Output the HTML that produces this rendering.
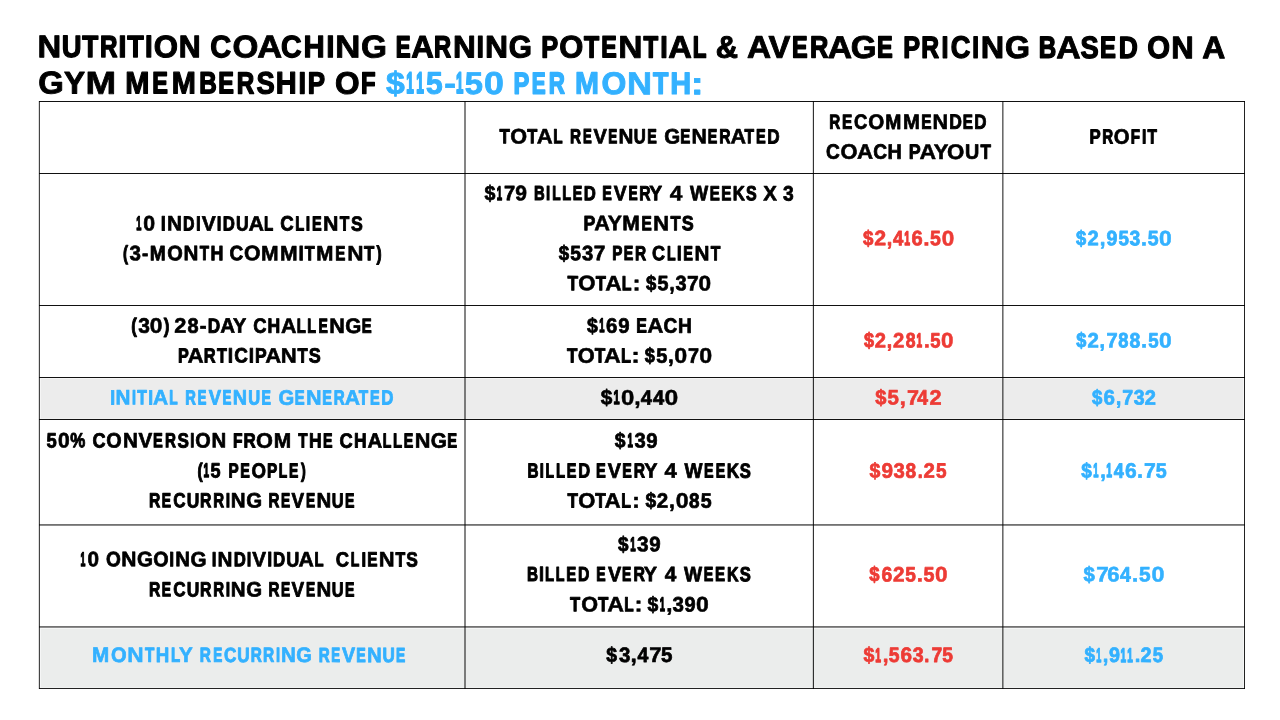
<!DOCTYPE html>
<html lang="en"><head><meta charset="utf-8"><title>Nutrition Coaching Earning Potential</title>
<style>
html,body{margin:0;padding:0;background:#fff;}
body{width:1280px;height:720px;overflow:hidden;font-family:"Liberation Sans",sans-serif;}
svg{display:block;will-change:transform;}
text{font-family:"Liberation Sans",sans-serif;font-weight:700;stroke-linejoin:round;}
</style></head><body>
<svg width="1280" height="720" viewBox="0 0 1280 720">
<rect x="0" y="0" width="1280" height="720" fill="#ffffff"/>
<!-- shaded summary rows -->
<rect x="40" y="378" width="1204" height="41" fill="#f5f5f5"/><rect x="41" y="379" width="1202" height="39.5" fill="#ececec"/>
<rect x="40" y="628" width="1204" height="60" fill="#f5f6f6"/><rect x="41" y="629" width="1202" height="58.5" fill="#ebedec"/>
<!-- grid lines -->
<rect x="39" y="101" width="1206" height="1" fill="#000" fill-opacity="0.933"/>
<rect x="39" y="173" width="1206" height="1" fill="#000" fill-opacity="0.933"/>
<rect x="39" y="305" width="1206" height="1" fill="#000" fill-opacity="0.933"/>
<rect x="39" y="377" width="1206" height="1" fill="#000" fill-opacity="0.933"/>
<rect x="39" y="419" width="1206" height="1" fill="#000" fill-opacity="0.933"/>
<rect x="39" y="524" width="1206" height="1" fill="#000" fill-opacity="0.553"/>
<rect x="39" y="525" width="1206" height="1" fill="#000" fill-opacity="0.451"/>
<rect x="39" y="626" width="1206" height="1" fill="#000" fill-opacity="0.553"/>
<rect x="39" y="627" width="1206" height="1" fill="#000" fill-opacity="0.451"/>
<rect x="39" y="688" width="1206" height="1" fill="#000" fill-opacity="0.867"/>
<rect x="39" y="101" width="1" height="588" fill="#000" fill-opacity="0.733"/>
<rect x="464" y="101" width="2" height="588" fill="#000" fill-opacity="0.482"/>
<rect x="813" y="101" width="1" height="588" fill="#000" fill-opacity="0.8"/>
<rect x="1002" y="101" width="1" height="588" fill="#000" fill-opacity="0.584"/>
<rect x="1003" y="101" width="1" height="588" fill="#000" fill-opacity="0.341"/>
<rect x="1244" y="101" width="1" height="588" fill="#000" fill-opacity="0.867"/>
<rect x="38" y="101" width="1" height="588" fill="#000" fill-opacity="0.13"/>
<rect x="812" y="101" width="1" height="588" fill="#000" fill-opacity="0.13"/>
<!-- text -->
<text transform="rotate(0.05 632.0 57.70)"><tspan x="37.41" y="57.76" font-size="31.47" textLength="23.71" lengthAdjust="spacingAndGlyphs" fill="#000000" stroke="#000000" stroke-width="0.88">N</tspan><tspan x="61.86" y="57.55" font-size="30.86" textLength="19.77" lengthAdjust="spacingAndGlyphs" fill="#000000" stroke="#000000" stroke-width="1.3">U</tspan><tspan x="82.32" y="57.51" font-size="30.73" textLength="15.99" lengthAdjust="spacingAndGlyphs" fill="#000000" stroke="#000000" stroke-width="1.39">T</tspan><tspan x="99.97" y="57.43" font-size="30.52" textLength="17.46" lengthAdjust="spacingAndGlyphs" fill="#000000" stroke="#000000" stroke-width="1.54">R</tspan><tspan x="118.21" y="57.65" font-size="31.15" textLength="8.35" lengthAdjust="spacingAndGlyphs" fill="#000000" stroke="#000000" stroke-width="1.1">I</tspan><tspan x="127.35" y="57.54" font-size="30.82" textLength="16.48" lengthAdjust="spacingAndGlyphs" fill="#000000" stroke="#000000" stroke-width="1.33">T</tspan><tspan x="145.08" y="57.55" font-size="30.86" textLength="7.62" lengthAdjust="spacingAndGlyphs" fill="#000000" stroke="#000000" stroke-width="1.3">I</tspan><tspan x="153.71" y="57.70" font-size="31.29" textLength="24.24" lengthAdjust="spacingAndGlyphs" fill="#000000" stroke="#000000" stroke-width="1.01">O</tspan><tspan x="178.68" y="57.66" font-size="31.18" textLength="21.89" lengthAdjust="spacingAndGlyphs" fill="#000000" stroke="#000000" stroke-width="1.08">N</tspan> <tspan x="210.17" y="57.62" font-size="31.05" textLength="20.96" lengthAdjust="spacingAndGlyphs" fill="#000000" stroke="#000000" stroke-width="1.17">C</tspan><tspan x="232.48" y="57.78" font-size="31.52" textLength="25.86" lengthAdjust="spacingAndGlyphs" fill="#000000" stroke="#000000" stroke-width="0.85">O</tspan><tspan x="257.21" y="57.83" font-size="31.66" textLength="24.96" lengthAdjust="spacingAndGlyphs" fill="#000000" stroke="#000000" stroke-width="0.75">A</tspan><tspan x="281.01" y="57.60" font-size="30.99" textLength="20.64" lengthAdjust="spacingAndGlyphs" fill="#000000" stroke="#000000" stroke-width="1.21">C</tspan><tspan x="303.57" y="57.62" font-size="31.08" textLength="21.21" lengthAdjust="spacingAndGlyphs" fill="#000000" stroke="#000000" stroke-width="1.15">H</tspan><tspan x="326.30" y="57.65" font-size="31.14" textLength="8.31" lengthAdjust="spacingAndGlyphs" fill="#000000" stroke="#000000" stroke-width="1.11">I</tspan><tspan x="335.12" y="57.83" font-size="31.66" textLength="25.44" lengthAdjust="spacingAndGlyphs" fill="#000000" stroke="#000000" stroke-width="0.75">N</tspan><tspan x="360.94" y="57.78" font-size="31.53" textLength="25.95" lengthAdjust="spacingAndGlyphs" fill="#000000" stroke="#000000" stroke-width="0.84">G</tspan> <tspan x="395.70" y="57.36" font-size="30.3" textLength="14.82" lengthAdjust="spacingAndGlyphs" fill="#000000" stroke="#000000" stroke-width="1.69">E</tspan><tspan x="411.23" y="57.70" font-size="31.3" textLength="22.59" lengthAdjust="spacingAndGlyphs" fill="#000000" stroke="#000000" stroke-width="1.0">A</tspan><tspan x="433.92" y="57.41" font-size="30.46" textLength="17.11" lengthAdjust="spacingAndGlyphs" fill="#000000" stroke="#000000" stroke-width="1.58">R</tspan><tspan x="452.94" y="57.71" font-size="31.33" textLength="22.78" lengthAdjust="spacingAndGlyphs" fill="#000000" stroke="#000000" stroke-width="0.98">N</tspan><tspan x="476.77" y="57.48" font-size="30.66" textLength="7.10" lengthAdjust="spacingAndGlyphs" fill="#000000" stroke="#000000" stroke-width="1.44">I</tspan><tspan x="484.92" y="57.73" font-size="31.37" textLength="23.07" lengthAdjust="spacingAndGlyphs" fill="#000000" stroke="#000000" stroke-width="0.95">N</tspan><tspan x="508.74" y="57.64" font-size="31.13" textLength="23.15" lengthAdjust="spacingAndGlyphs" fill="#000000" stroke="#000000" stroke-width="1.12">G</tspan> <tspan x="541.28" y="57.48" font-size="30.65" textLength="16.90" lengthAdjust="spacingAndGlyphs" fill="#000000" stroke="#000000" stroke-width="1.45">P</tspan><tspan x="559.35" y="57.69" font-size="31.26" textLength="24.04" lengthAdjust="spacingAndGlyphs" fill="#000000" stroke="#000000" stroke-width="1.03">O</tspan><tspan x="583.89" y="57.45" font-size="30.57" textLength="15.13" lengthAdjust="spacingAndGlyphs" fill="#000000" stroke="#000000" stroke-width="1.5">T</tspan><tspan x="601.14" y="57.39" font-size="30.4" textLength="15.49" lengthAdjust="spacingAndGlyphs" fill="#000000" stroke="#000000" stroke-width="1.62">E</tspan><tspan x="618.20" y="57.79" font-size="31.55" textLength="24.25" lengthAdjust="spacingAndGlyphs" fill="#000000" stroke="#000000" stroke-width="0.83">N</tspan><tspan x="643.39" y="57.42" font-size="30.49" textLength="14.63" lengthAdjust="spacingAndGlyphs" fill="#000000" stroke="#000000" stroke-width="1.56">T</tspan><tspan x="660.26" y="57.53" font-size="30.79" textLength="7.44" lengthAdjust="spacingAndGlyphs" fill="#000000" stroke="#000000" stroke-width="1.35">I</tspan><tspan x="668.38" y="57.76" font-size="31.46" textLength="23.61" lengthAdjust="spacingAndGlyphs" fill="#000000" stroke="#000000" stroke-width="0.89">A</tspan><tspan x="692.79" y="57.36" font-size="30.31" textLength="13.67" lengthAdjust="spacingAndGlyphs" fill="#000000" stroke="#000000" stroke-width="1.68">L</tspan> <tspan x="715.66" y="57.68" font-size="31.24" textLength="22.27" lengthAdjust="spacingAndGlyphs" fill="#000000" stroke="#000000" stroke-width="1.04">&amp;</tspan> <tspan x="746.94" y="57.78" font-size="31.53" textLength="24.13" lengthAdjust="spacingAndGlyphs" fill="#000000" stroke="#000000" stroke-width="0.84">A</tspan><tspan x="768.57" y="57.76" font-size="31.46" textLength="21.88" lengthAdjust="spacingAndGlyphs" fill="#000000" stroke="#000000" stroke-width="0.89">V</tspan><tspan x="791.94" y="57.40" font-size="30.43" textLength="15.59" lengthAdjust="spacingAndGlyphs" fill="#000000" stroke="#000000" stroke-width="1.6">E</tspan><tspan x="809.95" y="57.48" font-size="30.65" textLength="18.31" lengthAdjust="spacingAndGlyphs" fill="#000000" stroke="#000000" stroke-width="1.45">R</tspan><tspan x="827.72" y="57.79" font-size="31.56" textLength="24.36" lengthAdjust="spacingAndGlyphs" fill="#000000" stroke="#000000" stroke-width="0.82">A</tspan><tspan x="850.81" y="57.77" font-size="31.5" textLength="25.74" lengthAdjust="spacingAndGlyphs" fill="#000000" stroke="#000000" stroke-width="0.86">G</tspan><tspan x="876.88" y="57.41" font-size="30.44" textLength="15.72" lengthAdjust="spacingAndGlyphs" fill="#000000" stroke="#000000" stroke-width="1.59">E</tspan> <tspan x="903.19" y="57.47" font-size="30.63" textLength="16.83" lengthAdjust="spacingAndGlyphs" fill="#000000" stroke="#000000" stroke-width="1.46">P</tspan><tspan x="921.36" y="57.45" font-size="30.56" textLength="17.78" lengthAdjust="spacingAndGlyphs" fill="#000000" stroke="#000000" stroke-width="1.51">R</tspan><tspan x="941.43" y="57.46" font-size="30.6" textLength="6.94" lengthAdjust="spacingAndGlyphs" fill="#000000" stroke="#000000" stroke-width="1.48">I</tspan><tspan x="950.82" y="57.55" font-size="30.85" textLength="19.70" lengthAdjust="spacingAndGlyphs" fill="#000000" stroke="#000000" stroke-width="1.31">C</tspan><tspan x="972.22" y="57.43" font-size="30.5" textLength="6.71" lengthAdjust="spacingAndGlyphs" fill="#000000" stroke="#000000" stroke-width="1.55">I</tspan><tspan x="980.89" y="57.75" font-size="31.43" textLength="23.44" lengthAdjust="spacingAndGlyphs" fill="#000000" stroke="#000000" stroke-width="0.91">N</tspan><tspan x="1004.94" y="57.73" font-size="31.39" textLength="25.00" lengthAdjust="spacingAndGlyphs" fill="#000000" stroke="#000000" stroke-width="0.94">G</tspan> <tspan x="1038.74" y="57.43" font-size="30.5" textLength="17.44" lengthAdjust="spacingAndGlyphs" fill="#000000" stroke="#000000" stroke-width="1.55">B</tspan><tspan x="1056.16" y="57.80" font-size="31.58" textLength="24.41" lengthAdjust="spacingAndGlyphs" fill="#000000" stroke="#000000" stroke-width="0.81">A</tspan><tspan x="1080.55" y="57.55" font-size="30.85" textLength="18.19" lengthAdjust="spacingAndGlyphs" fill="#000000" stroke="#000000" stroke-width="1.31">S</tspan><tspan x="1100.10" y="57.42" font-size="30.47" textLength="15.91" lengthAdjust="spacingAndGlyphs" fill="#000000" stroke="#000000" stroke-width="1.57">E</tspan><tspan x="1118.72" y="57.51" font-size="30.75" textLength="19.04" lengthAdjust="spacingAndGlyphs" fill="#000000" stroke="#000000" stroke-width="1.38">D</tspan> <tspan x="1147.34" y="57.62" font-size="31.08" textLength="22.79" lengthAdjust="spacingAndGlyphs" fill="#000000" stroke="#000000" stroke-width="1.15">O</tspan><tspan x="1171.23" y="57.70" font-size="31.29" textLength="22.48" lengthAdjust="spacingAndGlyphs" fill="#000000" stroke="#000000" stroke-width="1.01">N</tspan> <tspan x="1202.38" y="57.73" font-size="31.37" textLength="23.05" lengthAdjust="spacingAndGlyphs" fill="#000000" stroke="#000000" stroke-width="0.95">A</tspan></text>
<text transform="rotate(0.05 369.6 93.80)"><tspan x="38.19" y="93.86" font-size="31.47" textLength="25.53" lengthAdjust="spacingAndGlyphs" fill="#000000" stroke="#000000" stroke-width="0.88">G</tspan><tspan x="64.00" y="93.80" font-size="31.31" textLength="21.00" lengthAdjust="spacingAndGlyphs" fill="#000000" stroke="#000000" stroke-width="0.99">Y</tspan><tspan x="85.48" y="93.92" font-size="31.66" textLength="30.65" lengthAdjust="spacingAndGlyphs" fill="#000000" stroke="#000000" stroke-width="0.75">M</tspan> <tspan x="125.16" y="93.71" font-size="31.04" textLength="24.16" lengthAdjust="spacingAndGlyphs" fill="#000000" stroke="#000000" stroke-width="1.18">M</tspan><tspan x="152.36" y="93.50" font-size="30.44" textLength="15.68" lengthAdjust="spacingAndGlyphs" fill="#000000" stroke="#000000" stroke-width="1.59">E</tspan><tspan x="171.84" y="93.71" font-size="31.04" textLength="24.11" lengthAdjust="spacingAndGlyphs" fill="#000000" stroke="#000000" stroke-width="1.18">M</tspan><tspan x="199.33" y="93.53" font-size="30.52" textLength="17.47" lengthAdjust="spacingAndGlyphs" fill="#000000" stroke="#000000" stroke-width="1.54">B</tspan><tspan x="218.21" y="93.50" font-size="30.43" textLength="15.61" lengthAdjust="spacingAndGlyphs" fill="#000000" stroke="#000000" stroke-width="1.6">E</tspan><tspan x="236.75" y="93.53" font-size="30.52" textLength="17.47" lengthAdjust="spacingAndGlyphs" fill="#000000" stroke="#000000" stroke-width="1.54">R</tspan><tspan x="256.62" y="93.64" font-size="30.85" textLength="18.18" lengthAdjust="spacingAndGlyphs" fill="#000000" stroke="#000000" stroke-width="1.31">S</tspan><tspan x="275.87" y="93.71" font-size="31.04" textLength="20.94" lengthAdjust="spacingAndGlyphs" fill="#000000" stroke="#000000" stroke-width="1.18">H</tspan><tspan x="298.50" y="93.64" font-size="30.85" textLength="7.57" lengthAdjust="spacingAndGlyphs" fill="#000000" stroke="#000000" stroke-width="1.31">I</tspan><tspan x="307.80" y="93.59" font-size="30.7" textLength="17.27" lengthAdjust="spacingAndGlyphs" fill="#000000" stroke="#000000" stroke-width="1.41">P</tspan> <tspan x="334.93" y="93.81" font-size="31.33" textLength="24.59" lengthAdjust="spacingAndGlyphs" fill="#000000" stroke="#000000" stroke-width="0.98">O</tspan><tspan x="361.11" y="93.52" font-size="30.47" textLength="14.55" lengthAdjust="spacingAndGlyphs" fill="#000000" stroke="#000000" stroke-width="1.57">F</tspan> <tspan x="386.03" y="93.89" font-size="31.58" textLength="18.76" lengthAdjust="spacingAndGlyphs" fill="#33b1ff" stroke="#33b1ff" stroke-width="0.81">$</tspan><tspan x="406.27" y="93.20" font-size="29.56" textLength="7.54" lengthAdjust="spacingAndGlyphs" fill="#33b1ff" stroke="#33b1ff" stroke-width="2.2">1</tspan><tspan x="416.15" y="93.20" font-size="29.56" textLength="7.64" lengthAdjust="spacingAndGlyphs" fill="#33b1ff" stroke="#33b1ff" stroke-width="2.2">1</tspan><tspan x="425.95" y="93.74" font-size="31.14" textLength="16.62" lengthAdjust="spacingAndGlyphs" fill="#33b1ff" stroke="#33b1ff" stroke-width="1.11">5</tspan><tspan x="444.27" y="93.92" font-size="31.66" textLength="11.71" lengthAdjust="spacingAndGlyphs" fill="#33b1ff" stroke="#33b1ff" stroke-width="0.75">-</tspan><tspan x="456.00" y="93.20" font-size="29.56" textLength="7.37" lengthAdjust="spacingAndGlyphs" fill="#33b1ff" stroke="#33b1ff" stroke-width="2.2">1</tspan><tspan x="464.89" y="93.85" font-size="31.45" textLength="18.13" lengthAdjust="spacingAndGlyphs" fill="#33b1ff" stroke="#33b1ff" stroke-width="0.9">5</tspan><tspan x="484.03" y="93.92" font-size="31.66" textLength="19.85" lengthAdjust="spacingAndGlyphs" fill="#33b1ff" stroke="#33b1ff" stroke-width="0.75">0</tspan> <tspan x="513.58" y="93.51" font-size="30.46" textLength="15.79" lengthAdjust="spacingAndGlyphs" fill="#33b1ff" stroke="#33b1ff" stroke-width="1.58">P</tspan><tspan x="531.71" y="93.40" font-size="30.14" textLength="13.86" lengthAdjust="spacingAndGlyphs" fill="#33b1ff" stroke="#33b1ff" stroke-width="1.8">E</tspan><tspan x="548.66" y="93.45" font-size="30.3" textLength="16.11" lengthAdjust="spacingAndGlyphs" fill="#33b1ff" stroke="#33b1ff" stroke-width="1.69">R</tspan> <tspan x="574.89" y="93.70" font-size="31.02" textLength="23.96" lengthAdjust="spacingAndGlyphs" fill="#33b1ff" stroke="#33b1ff" stroke-width="1.19">M</tspan><tspan x="601.56" y="93.83" font-size="31.37" textLength="24.82" lengthAdjust="spacingAndGlyphs" fill="#33b1ff" stroke="#33b1ff" stroke-width="0.95">O</tspan><tspan x="626.97" y="93.92" font-size="31.66" textLength="25.03" lengthAdjust="spacingAndGlyphs" fill="#33b1ff" stroke="#33b1ff" stroke-width="0.75">N</tspan><tspan x="653.01" y="93.57" font-size="30.63" textLength="15.41" lengthAdjust="spacingAndGlyphs" fill="#33b1ff" stroke="#33b1ff" stroke-width="1.46">T</tspan><tspan x="670.14" y="93.71" font-size="31.04" textLength="20.93" lengthAdjust="spacingAndGlyphs" fill="#33b1ff" stroke="#33b1ff" stroke-width="1.18">H</tspan><tspan x="690.70" y="93.92" font-size="31.66" textLength="12.90" lengthAdjust="spacingAndGlyphs" fill="#33b1ff" stroke="#33b1ff" stroke-width="0.75">:</tspan></text>
<text transform="rotate(0.05 639.2 143.48)"><tspan x="499.48" y="143.32" font-size="20.55" textLength="10.34" lengthAdjust="spacingAndGlyphs" fill="#000000" stroke="#000000" stroke-width="0.96">T</tspan><tspan x="510.16" y="143.50" font-size="21.07" textLength="16.80" lengthAdjust="spacingAndGlyphs" fill="#000000" stroke="#000000" stroke-width="0.6">O</tspan><tspan x="527.18" y="143.30" font-size="20.49" textLength="10.01" lengthAdjust="spacingAndGlyphs" fill="#000000" stroke="#000000" stroke-width="1.0">T</tspan><tspan x="536.79" y="143.52" font-size="21.13" textLength="16.01" lengthAdjust="spacingAndGlyphs" fill="#000000" stroke="#000000" stroke-width="0.56">A</tspan><tspan x="553.33" y="143.26" font-size="20.36" textLength="9.34" lengthAdjust="spacingAndGlyphs" fill="#000000" stroke="#000000" stroke-width="1.09">L</tspan> <tspan x="569.98" y="143.26" font-size="20.36" textLength="11.04" lengthAdjust="spacingAndGlyphs" fill="#000000" stroke="#000000" stroke-width="1.09">R</tspan><tspan x="582.88" y="143.18" font-size="20.13" textLength="8.73" lengthAdjust="spacingAndGlyphs" fill="#000000" stroke="#000000" stroke-width="1.25">E</tspan><tspan x="593.44" y="143.44" font-size="20.88" textLength="13.33" lengthAdjust="spacingAndGlyphs" fill="#000000" stroke="#000000" stroke-width="0.73">V</tspan><tspan x="608.37" y="143.19" font-size="20.17" textLength="9.01" lengthAdjust="spacingAndGlyphs" fill="#000000" stroke="#000000" stroke-width="1.22">E</tspan><tspan x="618.38" y="143.46" font-size="20.96" textLength="14.88" lengthAdjust="spacingAndGlyphs" fill="#000000" stroke="#000000" stroke-width="0.68">N</tspan><tspan x="633.85" y="143.31" font-size="20.52" textLength="12.00" lengthAdjust="spacingAndGlyphs" fill="#000000" stroke="#000000" stroke-width="0.98">U</tspan><tspan x="647.34" y="143.22" font-size="20.26" textLength="9.52" lengthAdjust="spacingAndGlyphs" fill="#000000" stroke="#000000" stroke-width="1.16">E</tspan> <tspan x="664.13" y="143.46" font-size="20.94" textLength="15.93" lengthAdjust="spacingAndGlyphs" fill="#000000" stroke="#000000" stroke-width="0.69">G</tspan><tspan x="680.35" y="143.25" font-size="20.35" textLength="10.07" lengthAdjust="spacingAndGlyphs" fill="#000000" stroke="#000000" stroke-width="1.1">E</tspan><tspan x="691.41" y="143.49" font-size="21.03" textLength="15.35" lengthAdjust="spacingAndGlyphs" fill="#000000" stroke="#000000" stroke-width="0.63">N</tspan><tspan x="707.84" y="143.22" font-size="20.26" textLength="9.51" lengthAdjust="spacingAndGlyphs" fill="#000000" stroke="#000000" stroke-width="1.16">E</tspan><tspan x="719.20" y="143.27" font-size="20.4" textLength="11.29" lengthAdjust="spacingAndGlyphs" fill="#000000" stroke="#000000" stroke-width="1.06">R</tspan><tspan x="730.40" y="143.50" font-size="21.06" textLength="15.55" lengthAdjust="spacingAndGlyphs" fill="#000000" stroke="#000000" stroke-width="0.61">A</tspan><tspan x="744.60" y="143.27" font-size="20.4" textLength="9.53" lengthAdjust="spacingAndGlyphs" fill="#000000" stroke="#000000" stroke-width="1.06">T</tspan><tspan x="756.02" y="143.23" font-size="20.29" textLength="9.68" lengthAdjust="spacingAndGlyphs" fill="#000000" stroke="#000000" stroke-width="1.14">E</tspan><tspan x="767.29" y="143.33" font-size="20.56" textLength="12.37" lengthAdjust="spacingAndGlyphs" fill="#000000" stroke="#000000" stroke-width="0.95">D</tspan></text>
<text transform="rotate(0.05 908.0 128.98)"><tspan x="829.21" y="128.76" font-size="20.36" textLength="10.96" lengthAdjust="spacingAndGlyphs" fill="#000000" stroke="#000000" stroke-width="1.09">R</tspan><tspan x="841.99" y="128.76" font-size="20.38" textLength="10.28" lengthAdjust="spacingAndGlyphs" fill="#000000" stroke="#000000" stroke-width="1.08">E</tspan><tspan x="854.03" y="128.88" font-size="20.71" textLength="13.28" lengthAdjust="spacingAndGlyphs" fill="#000000" stroke="#000000" stroke-width="0.85">C</tspan><tspan x="868.19" y="128.96" font-size="20.94" textLength="15.98" lengthAdjust="spacingAndGlyphs" fill="#000000" stroke="#000000" stroke-width="0.69">O</tspan><tspan x="885.28" y="128.91" font-size="20.81" textLength="16.08" lengthAdjust="spacingAndGlyphs" fill="#000000" stroke="#000000" stroke-width="0.78">M</tspan><tspan x="902.89" y="128.95" font-size="20.91" textLength="16.89" lengthAdjust="spacingAndGlyphs" fill="#000000" stroke="#000000" stroke-width="0.71">M</tspan><tspan x="921.29" y="128.77" font-size="20.39" textLength="10.29" lengthAdjust="spacingAndGlyphs" fill="#000000" stroke="#000000" stroke-width="1.07">E</tspan><tspan x="932.58" y="129.00" font-size="21.06" textLength="15.60" lengthAdjust="spacingAndGlyphs" fill="#000000" stroke="#000000" stroke-width="0.61">N</tspan><tspan x="949.15" y="128.84" font-size="20.61" textLength="12.62" lengthAdjust="spacingAndGlyphs" fill="#000000" stroke="#000000" stroke-width="0.92">D</tspan><tspan x="962.79" y="128.76" font-size="20.36" textLength="10.14" lengthAdjust="spacingAndGlyphs" fill="#000000" stroke="#000000" stroke-width="1.09">E</tspan><tspan x="974.22" y="128.82" font-size="20.55" textLength="12.22" lengthAdjust="spacingAndGlyphs" fill="#000000" stroke="#000000" stroke-width="0.96">D</tspan></text>
<text transform="rotate(0.05 908.6 158.88)"><tspan x="826.00" y="158.80" font-size="20.8" textLength="13.80" lengthAdjust="spacingAndGlyphs" fill="#000000" stroke="#000000" stroke-width="0.79">C</tspan><tspan x="840.41" y="158.91" font-size="21.09" textLength="16.99" lengthAdjust="spacingAndGlyphs" fill="#000000" stroke="#000000" stroke-width="0.59">O</tspan><tspan x="856.95" y="158.92" font-size="21.15" textLength="16.14" lengthAdjust="spacingAndGlyphs" fill="#000000" stroke="#000000" stroke-width="0.55">A</tspan><tspan x="873.13" y="158.80" font-size="20.8" textLength="13.83" lengthAdjust="spacingAndGlyphs" fill="#000000" stroke="#000000" stroke-width="0.79">C</tspan><tspan x="887.60" y="158.82" font-size="20.85" textLength="14.27" lengthAdjust="spacingAndGlyphs" fill="#000000" stroke="#000000" stroke-width="0.75">H</tspan> <tspan x="908.70" y="158.75" font-size="20.65" textLength="11.94" lengthAdjust="spacingAndGlyphs" fill="#000000" stroke="#000000" stroke-width="0.89">P</tspan><tspan x="919.55" y="158.95" font-size="21.22" textLength="16.59" lengthAdjust="spacingAndGlyphs" fill="#000000" stroke="#000000" stroke-width="0.5">A</tspan><tspan x="933.71" y="158.91" font-size="21.1" textLength="14.60" lengthAdjust="spacingAndGlyphs" fill="#000000" stroke="#000000" stroke-width="0.58">Y</tspan><tspan x="946.93" y="158.92" font-size="21.13" textLength="17.27" lengthAdjust="spacingAndGlyphs" fill="#000000" stroke="#000000" stroke-width="0.56">O</tspan><tspan x="965.07" y="158.82" font-size="20.85" textLength="14.27" lengthAdjust="spacingAndGlyphs" fill="#000000" stroke="#000000" stroke-width="0.75">U</tspan><tspan x="980.54" y="158.72" font-size="20.56" textLength="10.46" lengthAdjust="spacingAndGlyphs" fill="#000000" stroke="#000000" stroke-width="0.95">T</tspan></text>
<text transform="rotate(0.05 1123.8 143.68)"><tspan x="1089.61" y="143.51" font-size="20.53" textLength="11.19" lengthAdjust="spacingAndGlyphs" fill="#000000" stroke="#000000" stroke-width="0.97">P</tspan><tspan x="1102.21" y="143.45" font-size="20.35" textLength="10.90" lengthAdjust="spacingAndGlyphs" fill="#000000" stroke="#000000" stroke-width="1.1">R</tspan><tspan x="1113.83" y="143.65" font-size="20.93" textLength="15.81" lengthAdjust="spacingAndGlyphs" fill="#000000" stroke="#000000" stroke-width="0.7">O</tspan><tspan x="1130.75" y="143.45" font-size="20.35" textLength="9.25" lengthAdjust="spacingAndGlyphs" fill="#000000" stroke="#000000" stroke-width="1.1">F</tspan><tspan x="1141.93" y="143.47" font-size="20.39" textLength="4.32" lengthAdjust="spacingAndGlyphs" fill="#000000" stroke="#000000" stroke-width="1.07">I</tspan><tspan x="1147.43" y="143.47" font-size="20.39" textLength="9.43" lengthAdjust="spacingAndGlyphs" fill="#000000" stroke="#000000" stroke-width="1.07">T</tspan></text>
<text transform="rotate(0.05 249.3 230.68)"><tspan x="136.15" y="230.22" font-size="19.69" textLength="5.11" lengthAdjust="spacingAndGlyphs" fill="#000000" stroke="#000000" stroke-width="1.55">1</tspan><tspan x="143.13" y="230.69" font-size="21.03" textLength="11.82" lengthAdjust="spacingAndGlyphs" fill="#000000" stroke="#000000" stroke-width="0.63">0</tspan> <tspan x="160.77" y="230.57" font-size="20.69" textLength="5.08" lengthAdjust="spacingAndGlyphs" fill="#000000" stroke="#000000" stroke-width="0.86">I</tspan><tspan x="166.90" y="230.67" font-size="20.99" textLength="15.05" lengthAdjust="spacingAndGlyphs" fill="#000000" stroke="#000000" stroke-width="0.66">N</tspan><tspan x="183.05" y="230.48" font-size="20.43" textLength="11.45" lengthAdjust="spacingAndGlyphs" fill="#000000" stroke="#000000" stroke-width="1.04">D</tspan><tspan x="196.03" y="230.53" font-size="20.56" textLength="4.77" lengthAdjust="spacingAndGlyphs" fill="#000000" stroke="#000000" stroke-width="0.95">I</tspan><tspan x="201.68" y="230.68" font-size="21.0" textLength="14.00" lengthAdjust="spacingAndGlyphs" fill="#000000" stroke="#000000" stroke-width="0.65">V</tspan><tspan x="216.65" y="230.51" font-size="20.52" textLength="4.65" lengthAdjust="spacingAndGlyphs" fill="#000000" stroke="#000000" stroke-width="0.98">I</tspan><tspan x="222.74" y="230.51" font-size="20.53" textLength="12.11" lengthAdjust="spacingAndGlyphs" fill="#000000" stroke="#000000" stroke-width="0.97">D</tspan><tspan x="236.07" y="230.54" font-size="20.62" textLength="12.68" lengthAdjust="spacingAndGlyphs" fill="#000000" stroke="#000000" stroke-width="0.91">U</tspan><tspan x="248.46" y="230.69" font-size="21.06" textLength="15.50" lengthAdjust="spacingAndGlyphs" fill="#000000" stroke="#000000" stroke-width="0.61">A</tspan><tspan x="264.05" y="230.45" font-size="20.35" textLength="9.23" lengthAdjust="spacingAndGlyphs" fill="#000000" stroke="#000000" stroke-width="1.1">L</tspan> <tspan x="280.27" y="230.59" font-size="20.74" textLength="13.43" lengthAdjust="spacingAndGlyphs" fill="#000000" stroke="#000000" stroke-width="0.83">C</tspan><tspan x="295.35" y="230.44" font-size="20.3" textLength="9.00" lengthAdjust="spacingAndGlyphs" fill="#000000" stroke="#000000" stroke-width="1.13">L</tspan><tspan x="305.74" y="230.47" font-size="20.42" textLength="4.40" lengthAdjust="spacingAndGlyphs" fill="#000000" stroke="#000000" stroke-width="1.05">I</tspan><tspan x="312.06" y="230.43" font-size="20.27" textLength="9.66" lengthAdjust="spacingAndGlyphs" fill="#000000" stroke="#000000" stroke-width="1.15">E</tspan><tspan x="323.10" y="230.69" font-size="21.03" textLength="15.41" lengthAdjust="spacingAndGlyphs" fill="#000000" stroke="#000000" stroke-width="0.63">N</tspan><tspan x="339.77" y="230.47" font-size="20.4" textLength="9.54" lengthAdjust="spacingAndGlyphs" fill="#000000" stroke="#000000" stroke-width="1.06">T</tspan><tspan x="350.88" y="230.55" font-size="20.64" textLength="11.79" lengthAdjust="spacingAndGlyphs" fill="#000000" stroke="#000000" stroke-width="0.9">S</tspan></text>
<text transform="rotate(0.05 252.4 260.38)"><tspan x="123.11" y="260.15" font-size="20.35" textLength="5.05" lengthAdjust="spacingAndGlyphs" fill="#000000" stroke="#000000" stroke-width="1.1">(</tspan><tspan x="129.38" y="260.35" font-size="20.94" textLength="11.41" lengthAdjust="spacingAndGlyphs" fill="#000000" stroke="#000000" stroke-width="0.69">3</tspan><tspan x="142.09" y="260.30" font-size="20.77" textLength="6.29" lengthAdjust="spacingAndGlyphs" fill="#000000" stroke="#000000" stroke-width="0.81">-</tspan><tspan x="149.80" y="260.31" font-size="20.8" textLength="15.95" lengthAdjust="spacingAndGlyphs" fill="#000000" stroke="#000000" stroke-width="0.79">M</tspan><tspan x="167.13" y="260.33" font-size="20.88" textLength="15.53" lengthAdjust="spacingAndGlyphs" fill="#000000" stroke="#000000" stroke-width="0.73">O</tspan><tspan x="183.59" y="260.36" font-size="20.96" textLength="14.87" lengthAdjust="spacingAndGlyphs" fill="#000000" stroke="#000000" stroke-width="0.68">N</tspan><tspan x="199.65" y="260.15" font-size="20.35" textLength="9.26" lengthAdjust="spacingAndGlyphs" fill="#000000" stroke="#000000" stroke-width="1.1">T</tspan><tspan x="210.42" y="260.25" font-size="20.65" textLength="12.92" lengthAdjust="spacingAndGlyphs" fill="#000000" stroke="#000000" stroke-width="0.89">H</tspan> <tspan x="229.55" y="260.30" font-size="20.78" textLength="13.74" lengthAdjust="spacingAndGlyphs" fill="#000000" stroke="#000000" stroke-width="0.8">C</tspan><tspan x="243.91" y="260.38" font-size="21.01" textLength="16.48" lengthAdjust="spacingAndGlyphs" fill="#000000" stroke="#000000" stroke-width="0.64">O</tspan><tspan x="261.09" y="260.38" font-size="21.01" textLength="17.56" lengthAdjust="spacingAndGlyphs" fill="#000000" stroke="#000000" stroke-width="0.64">M</tspan><tspan x="279.97" y="260.38" font-size="21.01" textLength="17.60" lengthAdjust="spacingAndGlyphs" fill="#000000" stroke="#000000" stroke-width="0.64">M</tspan><tspan x="298.56" y="260.31" font-size="20.8" textLength="5.33" lengthAdjust="spacingAndGlyphs" fill="#000000" stroke="#000000" stroke-width="0.79">I</tspan><tspan x="304.72" y="260.19" font-size="20.46" textLength="9.90" lengthAdjust="spacingAndGlyphs" fill="#000000" stroke="#000000" stroke-width="1.02">T</tspan><tspan x="316.36" y="260.35" font-size="20.94" textLength="17.11" lengthAdjust="spacingAndGlyphs" fill="#000000" stroke="#000000" stroke-width="0.69">M</tspan><tspan x="335.31" y="260.15" font-size="20.35" textLength="10.10" lengthAdjust="spacingAndGlyphs" fill="#000000" stroke="#000000" stroke-width="1.1">E</tspan><tspan x="347.17" y="260.44" font-size="21.17" textLength="16.28" lengthAdjust="spacingAndGlyphs" fill="#000000" stroke="#000000" stroke-width="0.53">N</tspan><tspan x="363.94" y="260.21" font-size="20.53" textLength="10.29" lengthAdjust="spacingAndGlyphs" fill="#000000" stroke="#000000" stroke-width="0.97">T</tspan><tspan x="376.40" y="260.16" font-size="20.38" textLength="5.10" lengthAdjust="spacingAndGlyphs" fill="#000000" stroke="#000000" stroke-width="1.08">)</tspan></text>
<text transform="rotate(0.05 639.0 200.38)"><tspan x="484.46" y="200.32" font-size="20.84" textLength="10.92" lengthAdjust="spacingAndGlyphs" fill="#000000" stroke="#000000" stroke-width="0.76">$</tspan><tspan x="496.74" y="199.94" font-size="19.74" textLength="5.33" lengthAdjust="spacingAndGlyphs" fill="#000000" stroke="#000000" stroke-width="1.52">1</tspan><tspan x="503.88" y="200.34" font-size="20.9" textLength="11.17" lengthAdjust="spacingAndGlyphs" fill="#000000" stroke="#000000" stroke-width="0.72">7</tspan><tspan x="515.21" y="200.38" font-size="21.0" textLength="11.66" lengthAdjust="spacingAndGlyphs" fill="#000000" stroke="#000000" stroke-width="0.65">9</tspan> <tspan x="534.12" y="200.14" font-size="20.32" textLength="10.67" lengthAdjust="spacingAndGlyphs" fill="#000000" stroke="#000000" stroke-width="1.12">B</tspan><tspan x="546.06" y="200.14" font-size="20.32" textLength="4.14" lengthAdjust="spacingAndGlyphs" fill="#000000" stroke="#000000" stroke-width="1.12">I</tspan><tspan x="552.13" y="200.10" font-size="20.2" textLength="8.39" lengthAdjust="spacingAndGlyphs" fill="#000000" stroke="#000000" stroke-width="1.2">L</tspan><tspan x="562.18" y="200.13" font-size="20.29" textLength="8.93" lengthAdjust="spacingAndGlyphs" fill="#000000" stroke="#000000" stroke-width="1.14">L</tspan><tspan x="572.82" y="200.12" font-size="20.26" textLength="9.53" lengthAdjust="spacingAndGlyphs" fill="#000000" stroke="#000000" stroke-width="1.16">E</tspan><tspan x="583.83" y="200.21" font-size="20.52" textLength="12.06" lengthAdjust="spacingAndGlyphs" fill="#000000" stroke="#000000" stroke-width="0.98">D</tspan> <tspan x="602.36" y="200.12" font-size="20.26" textLength="9.56" lengthAdjust="spacingAndGlyphs" fill="#000000" stroke="#000000" stroke-width="1.16">E</tspan><tspan x="613.78" y="200.31" font-size="20.81" textLength="12.88" lengthAdjust="spacingAndGlyphs" fill="#000000" stroke="#000000" stroke-width="0.78">V</tspan><tspan x="628.42" y="200.10" font-size="20.2" textLength="9.16" lengthAdjust="spacingAndGlyphs" fill="#000000" stroke="#000000" stroke-width="1.2">E</tspan><tspan x="639.18" y="200.17" font-size="20.4" textLength="11.31" lengthAdjust="spacingAndGlyphs" fill="#000000" stroke="#000000" stroke-width="1.06">R</tspan><tspan x="649.33" y="200.31" font-size="20.81" textLength="12.91" lengthAdjust="spacingAndGlyphs" fill="#000000" stroke="#000000" stroke-width="0.78">Y</tspan> <tspan x="669.73" y="200.44" font-size="21.19" textLength="12.65" lengthAdjust="spacingAndGlyphs" fill="#000000" stroke="#000000" stroke-width="0.52">4</tspan> <tspan x="689.97" y="200.31" font-size="20.81" textLength="18.18" lengthAdjust="spacingAndGlyphs" fill="#000000" stroke="#000000" stroke-width="0.78">W</tspan><tspan x="709.74" y="200.14" font-size="20.33" textLength="10.02" lengthAdjust="spacingAndGlyphs" fill="#000000" stroke="#000000" stroke-width="1.11">E</tspan><tspan x="721.17" y="200.16" font-size="20.36" textLength="10.15" lengthAdjust="spacingAndGlyphs" fill="#000000" stroke="#000000" stroke-width="1.09">E</tspan><tspan x="732.87" y="200.21" font-size="20.52" textLength="12.07" lengthAdjust="spacingAndGlyphs" fill="#000000" stroke="#000000" stroke-width="0.98">K</tspan><tspan x="745.95" y="200.19" font-size="20.45" textLength="10.70" lengthAdjust="spacingAndGlyphs" fill="#000000" stroke="#000000" stroke-width="1.03">S</tspan> <tspan x="763.17" y="200.35" font-size="20.94" textLength="13.64" lengthAdjust="spacingAndGlyphs" fill="#000000" stroke="#000000" stroke-width="0.69">X</tspan> <tspan x="782.95" y="200.31" font-size="20.81" textLength="10.72" lengthAdjust="spacingAndGlyphs" fill="#000000" stroke="#000000" stroke-width="0.78">3</tspan></text>
<text transform="rotate(0.05 639.0 230.38)"><tspan x="583.52" y="230.25" font-size="20.64" textLength="11.85" lengthAdjust="spacingAndGlyphs" fill="#000000" stroke="#000000" stroke-width="0.9">P</tspan><tspan x="594.22" y="230.40" font-size="21.07" textLength="15.66" lengthAdjust="spacingAndGlyphs" fill="#000000" stroke="#000000" stroke-width="0.6">A</tspan><tspan x="607.67" y="230.38" font-size="21.03" textLength="14.16" lengthAdjust="spacingAndGlyphs" fill="#000000" stroke="#000000" stroke-width="0.63">Y</tspan><tspan x="622.34" y="230.38" font-size="21.01" textLength="17.61" lengthAdjust="spacingAndGlyphs" fill="#000000" stroke="#000000" stroke-width="0.64">M</tspan><tspan x="641.53" y="230.16" font-size="20.38" textLength="10.26" lengthAdjust="spacingAndGlyphs" fill="#000000" stroke="#000000" stroke-width="1.08">E</tspan><tspan x="653.03" y="230.42" font-size="21.15" textLength="16.14" lengthAdjust="spacingAndGlyphs" fill="#000000" stroke="#000000" stroke-width="0.55">N</tspan><tspan x="670.62" y="230.20" font-size="20.49" textLength="10.03" lengthAdjust="spacingAndGlyphs" fill="#000000" stroke="#000000" stroke-width="1.0">T</tspan><tspan x="681.87" y="230.26" font-size="20.67" textLength="11.98" lengthAdjust="spacingAndGlyphs" fill="#000000" stroke="#000000" stroke-width="0.88">S</tspan></text>
<text transform="rotate(0.05 639.5 260.38)"><tspan x="558.67" y="260.28" font-size="20.74" textLength="10.41" lengthAdjust="spacingAndGlyphs" fill="#000000" stroke="#000000" stroke-width="0.83">$</tspan><tspan x="570.32" y="260.31" font-size="20.81" textLength="10.73" lengthAdjust="spacingAndGlyphs" fill="#000000" stroke="#000000" stroke-width="0.78">5</tspan><tspan x="581.88" y="260.34" font-size="20.91" textLength="11.28" lengthAdjust="spacingAndGlyphs" fill="#000000" stroke="#000000" stroke-width="0.71">3</tspan><tspan x="593.66" y="260.37" font-size="20.99" textLength="11.63" lengthAdjust="spacingAndGlyphs" fill="#000000" stroke="#000000" stroke-width="0.66">7</tspan> <tspan x="612.25" y="260.15" font-size="20.35" textLength="10.10" lengthAdjust="spacingAndGlyphs" fill="#000000" stroke="#000000" stroke-width="1.1">P</tspan><tspan x="623.72" y="260.12" font-size="20.26" textLength="9.53" lengthAdjust="spacingAndGlyphs" fill="#000000" stroke="#000000" stroke-width="1.16">E</tspan><tspan x="634.88" y="260.16" font-size="20.38" textLength="11.14" lengthAdjust="spacingAndGlyphs" fill="#000000" stroke="#000000" stroke-width="1.08">R</tspan> <tspan x="652.05" y="260.26" font-size="20.68" textLength="13.07" lengthAdjust="spacingAndGlyphs" fill="#000000" stroke="#000000" stroke-width="0.87">C</tspan><tspan x="667.00" y="260.11" font-size="20.23" textLength="8.59" lengthAdjust="spacingAndGlyphs" fill="#000000" stroke="#000000" stroke-width="1.18">L</tspan><tspan x="676.87" y="260.28" font-size="20.72" textLength="5.13" lengthAdjust="spacingAndGlyphs" fill="#000000" stroke="#000000" stroke-width="0.84">I</tspan><tspan x="683.20" y="260.12" font-size="20.27" textLength="9.67" lengthAdjust="spacingAndGlyphs" fill="#000000" stroke="#000000" stroke-width="1.15">E</tspan><tspan x="694.59" y="260.36" font-size="20.96" textLength="14.93" lengthAdjust="spacingAndGlyphs" fill="#000000" stroke="#000000" stroke-width="0.68">N</tspan><tspan x="710.73" y="260.18" font-size="20.42" textLength="9.61" lengthAdjust="spacingAndGlyphs" fill="#000000" stroke="#000000" stroke-width="1.05">T</tspan></text>
<text transform="rotate(0.05 638.9 290.38)"><tspan x="567.42" y="290.24" font-size="20.61" textLength="10.63" lengthAdjust="spacingAndGlyphs" fill="#000000" stroke="#000000" stroke-width="0.92">T</tspan><tspan x="578.37" y="290.41" font-size="21.12" textLength="17.17" lengthAdjust="spacingAndGlyphs" fill="#000000" stroke="#000000" stroke-width="0.57">O</tspan><tspan x="595.72" y="290.21" font-size="20.52" textLength="10.17" lengthAdjust="spacingAndGlyphs" fill="#000000" stroke="#000000" stroke-width="0.98">T</tspan><tspan x="605.35" y="290.44" font-size="21.19" textLength="16.41" lengthAdjust="spacingAndGlyphs" fill="#000000" stroke="#000000" stroke-width="0.52">A</tspan><tspan x="621.80" y="290.19" font-size="20.45" textLength="9.77" lengthAdjust="spacingAndGlyphs" fill="#000000" stroke="#000000" stroke-width="1.03">L</tspan><tspan x="632.54" y="290.50" font-size="21.36" textLength="8.11" lengthAdjust="spacingAndGlyphs" fill="#000000" stroke="#000000" stroke-width="0.4">:</tspan> <tspan x="646.08" y="290.28" font-size="20.72" textLength="10.31" lengthAdjust="spacingAndGlyphs" fill="#000000" stroke="#000000" stroke-width="0.84">$</tspan><tspan x="657.43" y="290.32" font-size="20.85" textLength="10.95" lengthAdjust="spacingAndGlyphs" fill="#000000" stroke="#000000" stroke-width="0.75">5</tspan><tspan x="669.44" y="290.27" font-size="20.69" textLength="5.06" lengthAdjust="spacingAndGlyphs" fill="#000000" stroke="#000000" stroke-width="0.86">,</tspan><tspan x="675.58" y="290.33" font-size="20.88" textLength="11.07" lengthAdjust="spacingAndGlyphs" fill="#000000" stroke="#000000" stroke-width="0.73">3</tspan><tspan x="686.99" y="290.38" font-size="21.0" textLength="11.72" lengthAdjust="spacingAndGlyphs" fill="#000000" stroke="#000000" stroke-width="0.65">7</tspan><tspan x="698.41" y="290.44" font-size="21.17" textLength="12.58" lengthAdjust="spacingAndGlyphs" fill="#000000" stroke="#000000" stroke-width="0.53">0</tspan></text>
<text transform="rotate(0.05 908.1 245.38)"><tspan x="862.93" y="245.29" font-size="20.75" textLength="10.41" lengthAdjust="spacingAndGlyphs" fill="#ed3b35" stroke="#ed3b35" stroke-width="0.82">$</tspan><tspan x="874.15" y="245.39" font-size="21.04" textLength="11.88" lengthAdjust="spacingAndGlyphs" fill="#ed3b35" stroke="#ed3b35" stroke-width="0.62">2</tspan><tspan x="886.70" y="245.33" font-size="20.87" textLength="5.50" lengthAdjust="spacingAndGlyphs" fill="#ed3b35" stroke="#ed3b35" stroke-width="0.74">,</tspan><tspan x="893.10" y="245.28" font-size="20.72" textLength="10.32" lengthAdjust="spacingAndGlyphs" fill="#ed3b35" stroke="#ed3b35" stroke-width="0.84">4</tspan><tspan x="904.14" y="244.97" font-size="19.82" textLength="5.78" lengthAdjust="spacingAndGlyphs" fill="#ed3b35" stroke="#ed3b35" stroke-width="1.46">1</tspan><tspan x="911.38" y="245.34" font-size="20.9" textLength="11.19" lengthAdjust="spacingAndGlyphs" fill="#ed3b35" stroke="#ed3b35" stroke-width="0.72">6</tspan><tspan x="923.35" y="245.45" font-size="21.22" textLength="6.39" lengthAdjust="spacingAndGlyphs" fill="#ed3b35" stroke="#ed3b35" stroke-width="0.5">.</tspan><tspan x="930.06" y="245.31" font-size="20.83" textLength="10.82" lengthAdjust="spacingAndGlyphs" fill="#ed3b35" stroke="#ed3b35" stroke-width="0.77">5</tspan><tspan x="941.87" y="245.43" font-size="21.16" textLength="12.50" lengthAdjust="spacingAndGlyphs" fill="#ed3b35" stroke="#ed3b35" stroke-width="0.54">0</tspan></text>
<text transform="rotate(0.05 1123.5 245.38)"><tspan x="1075.90" y="245.27" font-size="20.71" textLength="10.20" lengthAdjust="spacingAndGlyphs" fill="#33b1ff" stroke="#33b1ff" stroke-width="0.85">$</tspan><tspan x="1087.45" y="245.34" font-size="20.91" textLength="11.23" lengthAdjust="spacingAndGlyphs" fill="#33b1ff" stroke="#33b1ff" stroke-width="0.71">2</tspan><tspan x="1099.69" y="245.35" font-size="20.94" textLength="5.70" lengthAdjust="spacingAndGlyphs" fill="#33b1ff" stroke="#33b1ff" stroke-width="0.69">,</tspan><tspan x="1106.49" y="245.32" font-size="20.84" textLength="10.90" lengthAdjust="spacingAndGlyphs" fill="#33b1ff" stroke="#33b1ff" stroke-width="0.76">9</tspan><tspan x="1118.52" y="245.29" font-size="20.75" textLength="10.43" lengthAdjust="spacingAndGlyphs" fill="#33b1ff" stroke="#33b1ff" stroke-width="0.82">5</tspan><tspan x="1129.45" y="245.31" font-size="20.81" textLength="10.75" lengthAdjust="spacingAndGlyphs" fill="#33b1ff" stroke="#33b1ff" stroke-width="0.78">3</tspan><tspan x="1141.00" y="245.38" font-size="21.03" textLength="5.91" lengthAdjust="spacingAndGlyphs" fill="#33b1ff" stroke="#33b1ff" stroke-width="0.63">.</tspan><tspan x="1147.66" y="245.31" font-size="20.83" textLength="10.82" lengthAdjust="spacingAndGlyphs" fill="#33b1ff" stroke="#33b1ff" stroke-width="0.77">5</tspan><tspan x="1158.95" y="245.44" font-size="21.2" textLength="12.69" lengthAdjust="spacingAndGlyphs" fill="#33b1ff" stroke="#33b1ff" stroke-width="0.51">0</tspan></text>
<text transform="rotate(0.05 251.7 332.88)"><tspan x="131.32" y="332.71" font-size="20.53" textLength="5.60" lengthAdjust="spacingAndGlyphs" fill="#000000" stroke="#000000" stroke-width="0.97">(</tspan><tspan x="138.18" y="332.87" font-size="20.99" textLength="11.63" lengthAdjust="spacingAndGlyphs" fill="#000000" stroke="#000000" stroke-width="0.66">3</tspan><tspan x="149.80" y="332.94" font-size="21.19" textLength="12.65" lengthAdjust="spacingAndGlyphs" fill="#000000" stroke="#000000" stroke-width="0.52">0</tspan><tspan x="163.81" y="332.72" font-size="20.56" textLength="5.67" lengthAdjust="spacingAndGlyphs" fill="#000000" stroke="#000000" stroke-width="0.95">)</tspan> <tspan x="174.29" y="332.90" font-size="21.09" textLength="12.12" lengthAdjust="spacingAndGlyphs" fill="#000000" stroke="#000000" stroke-width="0.59">2</tspan><tspan x="187.42" y="332.83" font-size="20.88" textLength="11.08" lengthAdjust="spacingAndGlyphs" fill="#000000" stroke="#000000" stroke-width="0.73">8</tspan><tspan x="199.80" y="332.85" font-size="20.93" textLength="6.76" lengthAdjust="spacingAndGlyphs" fill="#000000" stroke="#000000" stroke-width="0.7">-</tspan><tspan x="207.79" y="332.73" font-size="20.58" textLength="12.41" lengthAdjust="spacingAndGlyphs" fill="#000000" stroke="#000000" stroke-width="0.94">D</tspan><tspan x="220.15" y="332.86" font-size="20.96" textLength="14.85" lengthAdjust="spacingAndGlyphs" fill="#000000" stroke="#000000" stroke-width="0.68">A</tspan><tspan x="232.96" y="332.83" font-size="20.88" textLength="13.33" lengthAdjust="spacingAndGlyphs" fill="#000000" stroke="#000000" stroke-width="0.73">Y</tspan> <tspan x="253.35" y="332.77" font-size="20.71" textLength="13.26" lengthAdjust="spacingAndGlyphs" fill="#000000" stroke="#000000" stroke-width="0.85">C</tspan><tspan x="267.43" y="332.75" font-size="20.62" textLength="12.68" lengthAdjust="spacingAndGlyphs" fill="#000000" stroke="#000000" stroke-width="0.91">H</tspan><tspan x="281.02" y="332.89" font-size="21.04" textLength="15.45" lengthAdjust="spacingAndGlyphs" fill="#000000" stroke="#000000" stroke-width="0.62">A</tspan><tspan x="296.65" y="332.64" font-size="20.32" textLength="9.10" lengthAdjust="spacingAndGlyphs" fill="#000000" stroke="#000000" stroke-width="1.12">L</tspan><tspan x="307.31" y="332.62" font-size="20.26" textLength="8.77" lengthAdjust="spacingAndGlyphs" fill="#000000" stroke="#000000" stroke-width="1.16">L</tspan><tspan x="318.40" y="332.61" font-size="20.23" textLength="9.35" lengthAdjust="spacingAndGlyphs" fill="#000000" stroke="#000000" stroke-width="1.18">E</tspan><tspan x="329.29" y="332.90" font-size="21.07" textLength="15.62" lengthAdjust="spacingAndGlyphs" fill="#000000" stroke="#000000" stroke-width="0.6">N</tspan><tspan x="345.17" y="332.86" font-size="20.96" textLength="16.05" lengthAdjust="spacingAndGlyphs" fill="#000000" stroke="#000000" stroke-width="0.68">G</tspan><tspan x="361.74" y="332.64" font-size="20.32" textLength="9.91" lengthAdjust="spacingAndGlyphs" fill="#000000" stroke="#000000" stroke-width="1.12">E</tspan></text>
<text transform="rotate(0.05 249.3 362.68)"><tspan x="177.96" y="362.49" font-size="20.46" textLength="10.77" lengthAdjust="spacingAndGlyphs" fill="#000000" stroke="#000000" stroke-width="1.02">P</tspan><tspan x="187.43" y="362.73" font-size="21.16" textLength="16.17" lengthAdjust="spacingAndGlyphs" fill="#000000" stroke="#000000" stroke-width="0.54">A</tspan><tspan x="203.69" y="362.50" font-size="20.49" textLength="11.87" lengthAdjust="spacingAndGlyphs" fill="#000000" stroke="#000000" stroke-width="1.0">R</tspan><tspan x="216.92" y="362.49" font-size="20.46" textLength="9.88" lengthAdjust="spacingAndGlyphs" fill="#000000" stroke="#000000" stroke-width="1.02">T</tspan><tspan x="227.87" y="362.61" font-size="20.81" textLength="5.36" lengthAdjust="spacingAndGlyphs" fill="#000000" stroke="#000000" stroke-width="0.78">I</tspan><tspan x="234.18" y="362.60" font-size="20.77" textLength="13.66" lengthAdjust="spacingAndGlyphs" fill="#000000" stroke="#000000" stroke-width="0.81">C</tspan><tspan x="248.75" y="362.60" font-size="20.78" textLength="5.30" lengthAdjust="spacingAndGlyphs" fill="#000000" stroke="#000000" stroke-width="0.8">I</tspan><tspan x="254.95" y="362.54" font-size="20.61" textLength="11.67" lengthAdjust="spacingAndGlyphs" fill="#000000" stroke="#000000" stroke-width="0.92">P</tspan><tspan x="265.21" y="362.71" font-size="21.12" textLength="15.96" lengthAdjust="spacingAndGlyphs" fill="#000000" stroke="#000000" stroke-width="0.57">A</tspan><tspan x="280.65" y="362.72" font-size="21.13" textLength="15.98" lengthAdjust="spacingAndGlyphs" fill="#000000" stroke="#000000" stroke-width="0.56">N</tspan><tspan x="297.55" y="362.51" font-size="20.52" textLength="10.20" lengthAdjust="spacingAndGlyphs" fill="#000000" stroke="#000000" stroke-width="0.98">T</tspan><tspan x="308.75" y="362.56" font-size="20.67" textLength="12.00" lengthAdjust="spacingAndGlyphs" fill="#000000" stroke="#000000" stroke-width="0.88">S</tspan></text>
<text transform="rotate(0.05 639.1 332.78)"><tspan x="586.89" y="332.72" font-size="20.83" textLength="10.83" lengthAdjust="spacingAndGlyphs" fill="#000000" stroke="#000000" stroke-width="0.77">$</tspan><tspan x="599.29" y="332.34" font-size="19.72" textLength="5.26" lengthAdjust="spacingAndGlyphs" fill="#000000" stroke="#000000" stroke-width="1.53">1</tspan><tspan x="606.03" y="332.75" font-size="20.94" textLength="11.37" lengthAdjust="spacingAndGlyphs" fill="#000000" stroke="#000000" stroke-width="0.69">6</tspan><tspan x="618.34" y="332.75" font-size="20.93" textLength="11.33" lengthAdjust="spacingAndGlyphs" fill="#000000" stroke="#000000" stroke-width="0.7">9</tspan> <tspan x="636.14" y="332.58" font-size="20.43" textLength="10.62" lengthAdjust="spacingAndGlyphs" fill="#000000" stroke="#000000" stroke-width="1.04">E</tspan><tspan x="647.31" y="332.83" font-size="21.16" textLength="16.20" lengthAdjust="spacingAndGlyphs" fill="#000000" stroke="#000000" stroke-width="0.54">A</tspan><tspan x="663.40" y="332.70" font-size="20.78" textLength="13.71" lengthAdjust="spacingAndGlyphs" fill="#000000" stroke="#000000" stroke-width="0.8">C</tspan><tspan x="678.02" y="332.71" font-size="20.8" textLength="13.80" lengthAdjust="spacingAndGlyphs" fill="#000000" stroke="#000000" stroke-width="0.79">H</tspan></text>
<text transform="rotate(0.05 638.8 362.68)"><tspan x="566.90" y="362.52" font-size="20.56" textLength="10.39" lengthAdjust="spacingAndGlyphs" fill="#000000" stroke="#000000" stroke-width="0.95">T</tspan><tspan x="577.79" y="362.70" font-size="21.09" textLength="16.94" lengthAdjust="spacingAndGlyphs" fill="#000000" stroke="#000000" stroke-width="0.59">O</tspan><tspan x="594.68" y="362.53" font-size="20.58" textLength="10.53" lengthAdjust="spacingAndGlyphs" fill="#000000" stroke="#000000" stroke-width="0.94">T</tspan><tspan x="604.14" y="362.76" font-size="21.25" textLength="16.76" lengthAdjust="spacingAndGlyphs" fill="#000000" stroke="#000000" stroke-width="0.48">A</tspan><tspan x="620.99" y="362.50" font-size="20.49" textLength="10.00" lengthAdjust="spacingAndGlyphs" fill="#000000" stroke="#000000" stroke-width="1.0">L</tspan><tspan x="631.22" y="362.80" font-size="21.36" textLength="8.66" lengthAdjust="spacingAndGlyphs" fill="#000000" stroke="#000000" stroke-width="0.4">:</tspan> <tspan x="644.67" y="362.56" font-size="20.68" textLength="10.08" lengthAdjust="spacingAndGlyphs" fill="#000000" stroke="#000000" stroke-width="0.87">$</tspan><tspan x="656.30" y="362.63" font-size="20.88" textLength="11.13" lengthAdjust="spacingAndGlyphs" fill="#000000" stroke="#000000" stroke-width="0.73">5</tspan><tspan x="667.98" y="362.66" font-size="20.96" textLength="5.74" lengthAdjust="spacingAndGlyphs" fill="#000000" stroke="#000000" stroke-width="0.68">,</tspan><tspan x="674.15" y="362.76" font-size="21.25" textLength="12.90" lengthAdjust="spacingAndGlyphs" fill="#000000" stroke="#000000" stroke-width="0.48">0</tspan><tspan x="688.06" y="362.63" font-size="20.87" textLength="11.00" lengthAdjust="spacingAndGlyphs" fill="#000000" stroke="#000000" stroke-width="0.74">7</tspan><tspan x="699.18" y="362.75" font-size="21.23" textLength="12.88" lengthAdjust="spacingAndGlyphs" fill="#000000" stroke="#000000" stroke-width="0.49">0</tspan></text>
<text transform="rotate(0.05 908.2 347.48)"><tspan x="863.95" y="347.37" font-size="20.68" textLength="10.06" lengthAdjust="spacingAndGlyphs" fill="#ed3b35" stroke="#ed3b35" stroke-width="0.87">$</tspan><tspan x="874.84" y="347.44" font-size="20.91" textLength="11.22" lengthAdjust="spacingAndGlyphs" fill="#ed3b35" stroke="#ed3b35" stroke-width="0.71">2</tspan><tspan x="886.81" y="347.41" font-size="20.81" textLength="5.36" lengthAdjust="spacingAndGlyphs" fill="#ed3b35" stroke="#ed3b35" stroke-width="0.78">,</tspan><tspan x="892.98" y="347.44" font-size="20.91" textLength="11.24" lengthAdjust="spacingAndGlyphs" fill="#ed3b35" stroke="#ed3b35" stroke-width="0.71">2</tspan><tspan x="905.78" y="347.35" font-size="20.62" textLength="9.78" lengthAdjust="spacingAndGlyphs" fill="#ed3b35" stroke="#ed3b35" stroke-width="0.91">8</tspan><tspan x="916.60" y="347.06" font-size="19.78" textLength="5.57" lengthAdjust="spacingAndGlyphs" fill="#ed3b35" stroke="#ed3b35" stroke-width="1.49">1</tspan><tspan x="924.07" y="347.46" font-size="20.96" textLength="5.73" lengthAdjust="spacingAndGlyphs" fill="#ed3b35" stroke="#ed3b35" stroke-width="0.68">.</tspan><tspan x="930.28" y="347.38" font-size="20.71" textLength="10.21" lengthAdjust="spacingAndGlyphs" fill="#ed3b35" stroke="#ed3b35" stroke-width="0.85">5</tspan><tspan x="941.13" y="347.53" font-size="21.16" textLength="12.46" lengthAdjust="spacingAndGlyphs" fill="#ed3b35" stroke="#ed3b35" stroke-width="0.54">0</tspan></text>
<text transform="rotate(0.05 1123.5 347.48)"><tspan x="1076.13" y="347.37" font-size="20.68" textLength="10.10" lengthAdjust="spacingAndGlyphs" fill="#33b1ff" stroke="#33b1ff" stroke-width="0.87">$</tspan><tspan x="1087.54" y="347.45" font-size="20.93" textLength="11.33" lengthAdjust="spacingAndGlyphs" fill="#33b1ff" stroke="#33b1ff" stroke-width="0.7">2</tspan><tspan x="1099.55" y="347.43" font-size="20.85" textLength="5.47" lengthAdjust="spacingAndGlyphs" fill="#33b1ff" stroke="#33b1ff" stroke-width="0.75">,</tspan><tspan x="1106.54" y="347.44" font-size="20.9" textLength="11.16" lengthAdjust="spacingAndGlyphs" fill="#33b1ff" stroke="#33b1ff" stroke-width="0.72">7</tspan><tspan x="1118.30" y="347.37" font-size="20.69" textLength="10.14" lengthAdjust="spacingAndGlyphs" fill="#33b1ff" stroke="#33b1ff" stroke-width="0.86">8</tspan><tspan x="1129.61" y="347.42" font-size="20.83" textLength="10.81" lengthAdjust="spacingAndGlyphs" fill="#33b1ff" stroke="#33b1ff" stroke-width="0.77">8</tspan><tspan x="1141.14" y="347.52" font-size="21.13" textLength="6.16" lengthAdjust="spacingAndGlyphs" fill="#33b1ff" stroke="#33b1ff" stroke-width="0.56">.</tspan><tspan x="1148.17" y="347.38" font-size="20.74" textLength="10.37" lengthAdjust="spacingAndGlyphs" fill="#33b1ff" stroke="#33b1ff" stroke-width="0.83">5</tspan><tspan x="1158.91" y="347.54" font-size="21.19" textLength="12.64" lengthAdjust="spacingAndGlyphs" fill="#33b1ff" stroke="#33b1ff" stroke-width="0.52">0</tspan></text>
<text transform="rotate(0.05 252.0 404.68)"><tspan x="110.21" y="404.54" font-size="20.59" textLength="4.82" lengthAdjust="spacingAndGlyphs" fill="#33b1ff" stroke="#33b1ff" stroke-width="0.93">I</tspan><tspan x="115.61" y="404.66" font-size="20.96" textLength="14.90" lengthAdjust="spacingAndGlyphs" fill="#33b1ff" stroke="#33b1ff" stroke-width="0.68">N</tspan><tspan x="132.01" y="404.42" font-size="20.26" textLength="3.98" lengthAdjust="spacingAndGlyphs" fill="#33b1ff" stroke="#33b1ff" stroke-width="1.16">I</tspan><tspan x="137.33" y="404.48" font-size="20.42" textLength="9.58" lengthAdjust="spacingAndGlyphs" fill="#33b1ff" stroke="#33b1ff" stroke-width="1.05">T</tspan><tspan x="148.20" y="404.54" font-size="20.59" textLength="4.81" lengthAdjust="spacingAndGlyphs" fill="#33b1ff" stroke="#33b1ff" stroke-width="0.93">I</tspan><tspan x="153.12" y="404.67" font-size="20.99" textLength="15.12" lengthAdjust="spacingAndGlyphs" fill="#33b1ff" stroke="#33b1ff" stroke-width="0.66">A</tspan><tspan x="169.17" y="404.39" font-size="20.19" textLength="8.37" lengthAdjust="spacingAndGlyphs" fill="#33b1ff" stroke="#33b1ff" stroke-width="1.21">L</tspan> <tspan x="185.23" y="404.44" font-size="20.3" textLength="10.62" lengthAdjust="spacingAndGlyphs" fill="#33b1ff" stroke="#33b1ff" stroke-width="1.13">R</tspan><tspan x="197.87" y="404.37" font-size="20.1" textLength="8.61" lengthAdjust="spacingAndGlyphs" fill="#33b1ff" stroke="#33b1ff" stroke-width="1.27">E</tspan><tspan x="208.65" y="404.57" font-size="20.71" textLength="12.27" lengthAdjust="spacingAndGlyphs" fill="#33b1ff" stroke="#33b1ff" stroke-width="0.85">V</tspan><tspan x="222.40" y="404.38" font-size="20.14" textLength="8.86" lengthAdjust="spacingAndGlyphs" fill="#33b1ff" stroke="#33b1ff" stroke-width="1.24">E</tspan><tspan x="232.86" y="404.63" font-size="20.87" textLength="14.31" lengthAdjust="spacingAndGlyphs" fill="#33b1ff" stroke="#33b1ff" stroke-width="0.74">N</tspan><tspan x="248.18" y="404.50" font-size="20.49" textLength="11.90" lengthAdjust="spacingAndGlyphs" fill="#33b1ff" stroke="#33b1ff" stroke-width="1.0">U</tspan><tspan x="261.55" y="404.41" font-size="20.23" textLength="9.38" lengthAdjust="spacingAndGlyphs" fill="#33b1ff" stroke="#33b1ff" stroke-width="1.18">E</tspan> <tspan x="278.39" y="404.64" font-size="20.91" textLength="15.71" lengthAdjust="spacingAndGlyphs" fill="#33b1ff" stroke="#33b1ff" stroke-width="0.71">G</tspan><tspan x="294.67" y="404.44" font-size="20.32" textLength="9.86" lengthAdjust="spacingAndGlyphs" fill="#33b1ff" stroke="#33b1ff" stroke-width="1.12">E</tspan><tspan x="305.90" y="404.69" font-size="21.06" textLength="15.58" lengthAdjust="spacingAndGlyphs" fill="#33b1ff" stroke="#33b1ff" stroke-width="0.61">N</tspan><tspan x="322.16" y="404.43" font-size="20.27" textLength="9.61" lengthAdjust="spacingAndGlyphs" fill="#33b1ff" stroke="#33b1ff" stroke-width="1.15">E</tspan><tspan x="333.78" y="404.45" font-size="20.35" textLength="10.90" lengthAdjust="spacingAndGlyphs" fill="#33b1ff" stroke="#33b1ff" stroke-width="1.1">R</tspan><tspan x="344.66" y="404.68" font-size="21.01" textLength="15.28" lengthAdjust="spacingAndGlyphs" fill="#33b1ff" stroke="#33b1ff" stroke-width="0.64">A</tspan><tspan x="358.75" y="404.46" font-size="20.38" textLength="9.37" lengthAdjust="spacingAndGlyphs" fill="#33b1ff" stroke="#33b1ff" stroke-width="1.08">T</tspan><tspan x="370.00" y="404.43" font-size="20.27" textLength="9.64" lengthAdjust="spacingAndGlyphs" fill="#33b1ff" stroke="#33b1ff" stroke-width="1.15">E</tspan><tspan x="381.29" y="404.51" font-size="20.53" textLength="12.16" lengthAdjust="spacingAndGlyphs" fill="#33b1ff" stroke="#33b1ff" stroke-width="0.97">D</tspan></text>
<text transform="rotate(0.05 639.2 404.68)"><tspan x="600.84" y="404.67" font-size="20.99" textLength="11.59" lengthAdjust="spacingAndGlyphs" fill="#000000" stroke="#000000" stroke-width="0.66">$</tspan><tspan x="613.39" y="404.29" font-size="19.88" textLength="6.08" lengthAdjust="spacingAndGlyphs" fill="#000000" stroke="#000000" stroke-width="1.42">1</tspan><tspan x="621.05" y="404.79" font-size="21.32" textLength="13.31" lengthAdjust="spacingAndGlyphs" fill="#000000" stroke="#000000" stroke-width="0.43">0</tspan><tspan x="634.34" y="404.75" font-size="21.22" textLength="6.39" lengthAdjust="spacingAndGlyphs" fill="#000000" stroke="#000000" stroke-width="0.5">,</tspan><tspan x="640.86" y="404.64" font-size="20.9" textLength="11.20" lengthAdjust="spacingAndGlyphs" fill="#000000" stroke="#000000" stroke-width="0.72">4</tspan><tspan x="652.90" y="404.64" font-size="20.9" textLength="11.19" lengthAdjust="spacingAndGlyphs" fill="#000000" stroke="#000000" stroke-width="0.72">4</tspan><tspan x="664.57" y="404.80" font-size="21.36" textLength="13.74" lengthAdjust="spacingAndGlyphs" fill="#000000" stroke="#000000" stroke-width="0.4">0</tspan></text>
<text transform="rotate(0.05 908.0 404.68)"><tspan x="875.13" y="404.64" font-size="20.9" textLength="11.18" lengthAdjust="spacingAndGlyphs" fill="#ed3b35" stroke="#ed3b35" stroke-width="0.72">$</tspan><tspan x="887.46" y="404.65" font-size="20.94" textLength="11.37" lengthAdjust="spacingAndGlyphs" fill="#ed3b35" stroke="#ed3b35" stroke-width="0.69">5</tspan><tspan x="899.46" y="404.77" font-size="21.29" textLength="6.57" lengthAdjust="spacingAndGlyphs" fill="#ed3b35" stroke="#ed3b35" stroke-width="0.45">,</tspan><tspan x="906.96" y="404.69" font-size="21.06" textLength="11.98" lengthAdjust="spacingAndGlyphs" fill="#ed3b35" stroke="#ed3b35" stroke-width="0.61">7</tspan><tspan x="917.30" y="404.62" font-size="20.83" textLength="10.79" lengthAdjust="spacingAndGlyphs" fill="#ed3b35" stroke="#ed3b35" stroke-width="0.77">4</tspan><tspan x="929.41" y="404.70" font-size="21.09" textLength="12.11" lengthAdjust="spacingAndGlyphs" fill="#ed3b35" stroke="#ed3b35" stroke-width="0.59">2</tspan></text>
<text transform="rotate(0.05 1123.8 404.68)"><tspan x="1091.98" y="404.58" font-size="20.72" textLength="10.34" lengthAdjust="spacingAndGlyphs" fill="#33b1ff" stroke="#33b1ff" stroke-width="0.84">$</tspan><tspan x="1103.53" y="404.65" font-size="20.94" textLength="11.42" lengthAdjust="spacingAndGlyphs" fill="#33b1ff" stroke="#33b1ff" stroke-width="0.69">6</tspan><tspan x="1115.90" y="404.60" font-size="20.78" textLength="5.28" lengthAdjust="spacingAndGlyphs" fill="#33b1ff" stroke="#33b1ff" stroke-width="0.8">,</tspan><tspan x="1122.37" y="404.62" font-size="20.84" textLength="10.92" lengthAdjust="spacingAndGlyphs" fill="#33b1ff" stroke="#33b1ff" stroke-width="0.76">7</tspan><tspan x="1133.65" y="404.62" font-size="20.83" textLength="10.83" lengthAdjust="spacingAndGlyphs" fill="#33b1ff" stroke="#33b1ff" stroke-width="0.77">3</tspan><tspan x="1144.86" y="404.64" font-size="20.9" textLength="11.14" lengthAdjust="spacingAndGlyphs" fill="#33b1ff" stroke="#33b1ff" stroke-width="0.72">2</tspan></text>
<text transform="rotate(0.05 251.9 447.68)"><tspan x="46.57" y="447.57" font-size="20.71" textLength="10.22" lengthAdjust="spacingAndGlyphs" fill="#000000" stroke="#000000" stroke-width="0.85">5</tspan><tspan x="58.00" y="447.68" font-size="21.0" textLength="11.68" lengthAdjust="spacingAndGlyphs" fill="#000000" stroke="#000000" stroke-width="0.65">0</tspan><tspan x="70.19" y="447.52" font-size="20.55" textLength="15.03" lengthAdjust="spacingAndGlyphs" fill="#000000" stroke="#000000" stroke-width="0.96">%</tspan> <tspan x="92.55" y="447.56" font-size="20.68" textLength="13.09" lengthAdjust="spacingAndGlyphs" fill="#000000" stroke="#000000" stroke-width="0.87">C</tspan><tspan x="106.21" y="447.63" font-size="20.87" textLength="15.41" lengthAdjust="spacingAndGlyphs" fill="#000000" stroke="#000000" stroke-width="0.74">O</tspan><tspan x="122.88" y="447.66" font-size="20.96" textLength="14.92" lengthAdjust="spacingAndGlyphs" fill="#000000" stroke="#000000" stroke-width="0.68">N</tspan><tspan x="138.43" y="447.65" font-size="20.94" textLength="13.71" lengthAdjust="spacingAndGlyphs" fill="#000000" stroke="#000000" stroke-width="0.69">V</tspan><tspan x="153.09" y="447.43" font-size="20.29" textLength="9.75" lengthAdjust="spacingAndGlyphs" fill="#000000" stroke="#000000" stroke-width="1.14">E</tspan><tspan x="165.10" y="447.45" font-size="20.36" textLength="10.96" lengthAdjust="spacingAndGlyphs" fill="#000000" stroke="#000000" stroke-width="1.09">R</tspan><tspan x="177.47" y="447.52" font-size="20.56" textLength="11.42" lengthAdjust="spacingAndGlyphs" fill="#000000" stroke="#000000" stroke-width="0.95">S</tspan><tspan x="190.25" y="447.43" font-size="20.29" textLength="4.06" lengthAdjust="spacingAndGlyphs" fill="#000000" stroke="#000000" stroke-width="1.14">I</tspan><tspan x="195.30" y="447.63" font-size="20.87" textLength="15.42" lengthAdjust="spacingAndGlyphs" fill="#000000" stroke="#000000" stroke-width="0.74">O</tspan><tspan x="211.62" y="447.65" font-size="20.93" textLength="14.70" lengthAdjust="spacingAndGlyphs" fill="#000000" stroke="#000000" stroke-width="0.7">N</tspan> <tspan x="232.92" y="447.47" font-size="20.4" textLength="9.53" lengthAdjust="spacingAndGlyphs" fill="#000000" stroke="#000000" stroke-width="1.06">F</tspan><tspan x="243.50" y="447.52" font-size="20.55" textLength="12.24" lengthAdjust="spacingAndGlyphs" fill="#000000" stroke="#000000" stroke-width="0.96">R</tspan><tspan x="256.04" y="447.70" font-size="21.09" textLength="16.92" lengthAdjust="spacingAndGlyphs" fill="#000000" stroke="#000000" stroke-width="0.59">O</tspan><tspan x="273.78" y="447.67" font-size="20.99" textLength="17.42" lengthAdjust="spacingAndGlyphs" fill="#000000" stroke="#000000" stroke-width="0.66">M</tspan> <tspan x="298.19" y="447.45" font-size="20.36" textLength="9.28" lengthAdjust="spacingAndGlyphs" fill="#000000" stroke="#000000" stroke-width="1.09">T</tspan><tspan x="309.02" y="447.55" font-size="20.62" textLength="12.67" lengthAdjust="spacingAndGlyphs" fill="#000000" stroke="#000000" stroke-width="0.91">H</tspan><tspan x="323.12" y="447.42" font-size="20.26" textLength="9.52" lengthAdjust="spacingAndGlyphs" fill="#000000" stroke="#000000" stroke-width="1.16">E</tspan> <tspan x="339.51" y="447.57" font-size="20.69" textLength="13.22" lengthAdjust="spacingAndGlyphs" fill="#000000" stroke="#000000" stroke-width="0.86">C</tspan><tspan x="354.09" y="447.54" font-size="20.61" textLength="12.58" lengthAdjust="spacingAndGlyphs" fill="#000000" stroke="#000000" stroke-width="0.92">H</tspan><tspan x="367.39" y="447.65" font-size="20.94" textLength="14.77" lengthAdjust="spacingAndGlyphs" fill="#000000" stroke="#000000" stroke-width="0.69">A</tspan><tspan x="382.65" y="447.41" font-size="20.23" textLength="8.62" lengthAdjust="spacingAndGlyphs" fill="#000000" stroke="#000000" stroke-width="1.18">L</tspan><tspan x="393.12" y="447.44" font-size="20.33" textLength="9.15" lengthAdjust="spacingAndGlyphs" fill="#000000" stroke="#000000" stroke-width="1.11">L</tspan><tspan x="403.77" y="447.42" font-size="20.26" textLength="9.51" lengthAdjust="spacingAndGlyphs" fill="#000000" stroke="#000000" stroke-width="1.16">E</tspan><tspan x="414.89" y="447.70" font-size="21.07" textLength="15.68" lengthAdjust="spacingAndGlyphs" fill="#000000" stroke="#000000" stroke-width="0.6">N</tspan><tspan x="430.63" y="447.67" font-size="20.97" textLength="16.15" lengthAdjust="spacingAndGlyphs" fill="#000000" stroke="#000000" stroke-width="0.67">G</tspan><tspan x="447.18" y="447.44" font-size="20.3" textLength="9.82" lengthAdjust="spacingAndGlyphs" fill="#000000" stroke="#000000" stroke-width="1.13">E</tspan></text>
<text transform="rotate(0.05 251.7 477.78)"><tspan x="197.54" y="477.56" font-size="20.38" textLength="5.14" lengthAdjust="spacingAndGlyphs" fill="#000000" stroke="#000000" stroke-width="1.08">(</tspan><tspan x="203.58" y="477.36" font-size="19.78" textLength="5.53" lengthAdjust="spacingAndGlyphs" fill="#000000" stroke="#000000" stroke-width="1.49">1</tspan><tspan x="210.57" y="477.66" font-size="20.67" textLength="10.04" lengthAdjust="spacingAndGlyphs" fill="#000000" stroke="#000000" stroke-width="0.88">5</tspan> <tspan x="228.40" y="477.56" font-size="20.36" textLength="10.17" lengthAdjust="spacingAndGlyphs" fill="#000000" stroke="#000000" stroke-width="1.09">P</tspan><tspan x="240.19" y="477.52" font-size="20.26" textLength="9.56" lengthAdjust="spacingAndGlyphs" fill="#000000" stroke="#000000" stroke-width="1.16">E</tspan><tspan x="251.47" y="477.69" font-size="20.74" textLength="14.50" lengthAdjust="spacingAndGlyphs" fill="#000000" stroke="#000000" stroke-width="0.83">O</tspan><tspan x="267.10" y="477.56" font-size="20.39" textLength="10.29" lengthAdjust="spacingAndGlyphs" fill="#000000" stroke="#000000" stroke-width="1.07">P</tspan><tspan x="278.87" y="477.50" font-size="20.22" textLength="8.47" lengthAdjust="spacingAndGlyphs" fill="#000000" stroke="#000000" stroke-width="1.19">L</tspan><tspan x="289.04" y="477.50" font-size="20.22" textLength="9.32" lengthAdjust="spacingAndGlyphs" fill="#000000" stroke="#000000" stroke-width="1.19">E</tspan><tspan x="301.03" y="477.52" font-size="20.26" textLength="4.78" lengthAdjust="spacingAndGlyphs" fill="#000000" stroke="#000000" stroke-width="1.16">)</tspan></text>
<text transform="rotate(0.05 251.9 507.57)"><tspan x="149.03" y="507.37" font-size="20.4" textLength="11.31" lengthAdjust="spacingAndGlyphs" fill="#000000" stroke="#000000" stroke-width="1.06">R</tspan><tspan x="161.68" y="507.30" font-size="20.22" textLength="9.28" lengthAdjust="spacingAndGlyphs" fill="#000000" stroke="#000000" stroke-width="1.19">E</tspan><tspan x="173.34" y="507.42" font-size="20.56" textLength="12.34" lengthAdjust="spacingAndGlyphs" fill="#000000" stroke="#000000" stroke-width="0.95">C</tspan><tspan x="186.73" y="507.44" font-size="20.61" textLength="12.59" lengthAdjust="spacingAndGlyphs" fill="#000000" stroke="#000000" stroke-width="0.92">U</tspan><tspan x="200.09" y="507.38" font-size="20.42" textLength="11.39" lengthAdjust="spacingAndGlyphs" fill="#000000" stroke="#000000" stroke-width="1.05">R</tspan><tspan x="213.15" y="507.34" font-size="20.33" textLength="10.85" lengthAdjust="spacingAndGlyphs" fill="#000000" stroke="#000000" stroke-width="1.11">R</tspan><tspan x="225.74" y="507.38" font-size="20.42" textLength="4.38" lengthAdjust="spacingAndGlyphs" fill="#000000" stroke="#000000" stroke-width="1.05">I</tspan><tspan x="230.78" y="507.55" font-size="20.94" textLength="14.82" lengthAdjust="spacingAndGlyphs" fill="#000000" stroke="#000000" stroke-width="0.69">N</tspan><tspan x="246.37" y="507.55" font-size="20.93" textLength="15.85" lengthAdjust="spacingAndGlyphs" fill="#000000" stroke="#000000" stroke-width="0.7">G</tspan> <tspan x="268.43" y="507.35" font-size="20.35" textLength="10.92" lengthAdjust="spacingAndGlyphs" fill="#000000" stroke="#000000" stroke-width="1.1">R</tspan><tspan x="281.06" y="507.30" font-size="20.2" textLength="9.18" lengthAdjust="spacingAndGlyphs" fill="#000000" stroke="#000000" stroke-width="1.2">E</tspan><tspan x="291.62" y="507.50" font-size="20.77" textLength="12.61" lengthAdjust="spacingAndGlyphs" fill="#000000" stroke="#000000" stroke-width="0.81">V</tspan><tspan x="306.06" y="507.30" font-size="20.2" textLength="9.18" lengthAdjust="spacingAndGlyphs" fill="#000000" stroke="#000000" stroke-width="1.2">E</tspan><tspan x="316.39" y="507.55" font-size="20.93" textLength="14.74" lengthAdjust="spacingAndGlyphs" fill="#000000" stroke="#000000" stroke-width="0.7">N</tspan><tspan x="331.64" y="507.40" font-size="20.49" textLength="11.83" lengthAdjust="spacingAndGlyphs" fill="#000000" stroke="#000000" stroke-width="1.0">U</tspan><tspan x="344.92" y="507.31" font-size="20.24" textLength="9.43" lengthAdjust="spacingAndGlyphs" fill="#000000" stroke="#000000" stroke-width="1.17">E</tspan></text>
<text transform="rotate(0.05 636.1 447.68)"><tspan x="614.83" y="447.61" font-size="20.81" textLength="10.76" lengthAdjust="spacingAndGlyphs" fill="#000000" stroke="#000000" stroke-width="0.78">$</tspan><tspan x="627.47" y="447.25" font-size="19.75" textLength="5.41" lengthAdjust="spacingAndGlyphs" fill="#000000" stroke="#000000" stroke-width="1.51">1</tspan><tspan x="634.47" y="447.64" font-size="20.91" textLength="11.23" lengthAdjust="spacingAndGlyphs" fill="#000000" stroke="#000000" stroke-width="0.71">3</tspan><tspan x="646.15" y="447.65" font-size="20.93" textLength="11.33" lengthAdjust="spacingAndGlyphs" fill="#000000" stroke="#000000" stroke-width="0.7">9</tspan></text>
<text transform="rotate(0.05 639.5 477.78)"><tspan x="527.44" y="477.56" font-size="20.36" textLength="11.00" lengthAdjust="spacingAndGlyphs" fill="#000000" stroke="#000000" stroke-width="1.09">B</tspan><tspan x="539.84" y="477.54" font-size="20.3" textLength="4.10" lengthAdjust="spacingAndGlyphs" fill="#000000" stroke="#000000" stroke-width="1.13">I</tspan><tspan x="545.49" y="477.50" font-size="20.22" textLength="8.52" lengthAdjust="spacingAndGlyphs" fill="#000000" stroke="#000000" stroke-width="1.19">L</tspan><tspan x="556.00" y="477.54" font-size="20.32" textLength="9.09" lengthAdjust="spacingAndGlyphs" fill="#000000" stroke="#000000" stroke-width="1.12">L</tspan><tspan x="566.83" y="477.53" font-size="20.27" textLength="9.64" lengthAdjust="spacingAndGlyphs" fill="#000000" stroke="#000000" stroke-width="1.15">E</tspan><tspan x="578.14" y="477.60" font-size="20.49" textLength="11.89" lengthAdjust="spacingAndGlyphs" fill="#000000" stroke="#000000" stroke-width="1.0">D</tspan> <tspan x="595.91" y="477.53" font-size="20.29" textLength="9.75" lengthAdjust="spacingAndGlyphs" fill="#000000" stroke="#000000" stroke-width="1.14">E</tspan><tspan x="607.64" y="477.73" font-size="20.87" textLength="13.21" lengthAdjust="spacingAndGlyphs" fill="#000000" stroke="#000000" stroke-width="0.74">V</tspan><tspan x="622.21" y="477.52" font-size="20.26" textLength="9.53" lengthAdjust="spacingAndGlyphs" fill="#000000" stroke="#000000" stroke-width="1.16">E</tspan><tspan x="633.73" y="477.57" font-size="20.4" textLength="11.26" lengthAdjust="spacingAndGlyphs" fill="#000000" stroke="#000000" stroke-width="1.06">R</tspan><tspan x="644.22" y="477.74" font-size="20.88" textLength="13.29" lengthAdjust="spacingAndGlyphs" fill="#000000" stroke="#000000" stroke-width="0.73">Y</tspan> <tspan x="664.50" y="477.83" font-size="21.15" textLength="12.38" lengthAdjust="spacingAndGlyphs" fill="#000000" stroke="#000000" stroke-width="0.55">4</tspan> <tspan x="684.39" y="477.70" font-size="20.78" textLength="18.00" lengthAdjust="spacingAndGlyphs" fill="#000000" stroke="#000000" stroke-width="0.8">W</tspan><tspan x="703.98" y="477.52" font-size="20.26" textLength="9.54" lengthAdjust="spacingAndGlyphs" fill="#000000" stroke="#000000" stroke-width="1.16">E</tspan><tspan x="715.63" y="477.52" font-size="20.24" textLength="9.49" lengthAdjust="spacingAndGlyphs" fill="#000000" stroke="#000000" stroke-width="1.17">E</tspan><tspan x="726.87" y="477.62" font-size="20.56" textLength="12.33" lengthAdjust="spacingAndGlyphs" fill="#000000" stroke="#000000" stroke-width="0.95">K</tspan><tspan x="739.77" y="477.61" font-size="20.52" textLength="11.09" lengthAdjust="spacingAndGlyphs" fill="#000000" stroke="#000000" stroke-width="0.98">S</tspan></text>
<text transform="rotate(0.05 639.2 507.68)"><tspan x="567.38" y="507.52" font-size="20.56" textLength="10.45" lengthAdjust="spacingAndGlyphs" fill="#000000" stroke="#000000" stroke-width="0.95">T</tspan><tspan x="578.28" y="507.71" font-size="21.1" textLength="17.08" lengthAdjust="spacingAndGlyphs" fill="#000000" stroke="#000000" stroke-width="0.58">O</tspan><tspan x="595.25" y="507.53" font-size="20.58" textLength="10.51" lengthAdjust="spacingAndGlyphs" fill="#000000" stroke="#000000" stroke-width="0.94">T</tspan><tspan x="604.64" y="507.73" font-size="21.16" textLength="16.18" lengthAdjust="spacingAndGlyphs" fill="#000000" stroke="#000000" stroke-width="0.54">A</tspan><tspan x="621.36" y="507.48" font-size="20.43" textLength="9.68" lengthAdjust="spacingAndGlyphs" fill="#000000" stroke="#000000" stroke-width="1.04">L</tspan><tspan x="631.93" y="507.79" font-size="21.33" textLength="8.02" lengthAdjust="spacingAndGlyphs" fill="#000000" stroke="#000000" stroke-width="0.42">:</tspan> <tspan x="645.40" y="507.61" font-size="20.8" textLength="10.67" lengthAdjust="spacingAndGlyphs" fill="#000000" stroke="#000000" stroke-width="0.79">$</tspan><tspan x="656.79" y="507.65" font-size="20.94" textLength="11.43" lengthAdjust="spacingAndGlyphs" fill="#000000" stroke="#000000" stroke-width="0.69">2</tspan><tspan x="669.14" y="507.68" font-size="21.01" textLength="5.87" lengthAdjust="spacingAndGlyphs" fill="#000000" stroke="#000000" stroke-width="0.64">,</tspan><tspan x="675.70" y="507.75" font-size="21.23" textLength="12.84" lengthAdjust="spacingAndGlyphs" fill="#000000" stroke="#000000" stroke-width="0.49">0</tspan><tspan x="689.04" y="507.60" font-size="20.77" textLength="10.52" lengthAdjust="spacingAndGlyphs" fill="#000000" stroke="#000000" stroke-width="0.81">8</tspan><tspan x="700.82" y="507.62" font-size="20.84" textLength="10.89" lengthAdjust="spacingAndGlyphs" fill="#000000" stroke="#000000" stroke-width="0.76">5</tspan></text>
<text transform="rotate(0.05 908.0 477.78)"><tspan x="869.51" y="477.72" font-size="20.84" textLength="10.87" lengthAdjust="spacingAndGlyphs" fill="#ed3b35" stroke="#ed3b35" stroke-width="0.76">$</tspan><tspan x="881.40" y="477.77" font-size="20.97" textLength="11.55" lengthAdjust="spacingAndGlyphs" fill="#ed3b35" stroke="#ed3b35" stroke-width="0.67">9</tspan><tspan x="893.48" y="477.75" font-size="20.91" textLength="11.28" lengthAdjust="spacingAndGlyphs" fill="#ed3b35" stroke="#ed3b35" stroke-width="0.71">3</tspan><tspan x="905.50" y="477.71" font-size="20.8" textLength="10.63" lengthAdjust="spacingAndGlyphs" fill="#ed3b35" stroke="#ed3b35" stroke-width="0.79">8</tspan><tspan x="917.67" y="477.65" font-size="20.64" textLength="4.94" lengthAdjust="spacingAndGlyphs" fill="#ed3b35" stroke="#ed3b35" stroke-width="0.9">.</tspan><tspan x="923.41" y="477.75" font-size="20.93" textLength="11.36" lengthAdjust="spacingAndGlyphs" fill="#ed3b35" stroke="#ed3b35" stroke-width="0.7">2</tspan><tspan x="936.08" y="477.70" font-size="20.77" textLength="10.55" lengthAdjust="spacingAndGlyphs" fill="#ed3b35" stroke="#ed3b35" stroke-width="0.81">5</tspan></text>
<text transform="rotate(0.05 1123.8 477.78)"><tspan x="1081.15" y="477.70" font-size="20.78" textLength="10.57" lengthAdjust="spacingAndGlyphs" fill="#33b1ff" stroke="#33b1ff" stroke-width="0.8">$</tspan><tspan x="1093.26" y="477.33" font-size="19.71" textLength="5.20" lengthAdjust="spacingAndGlyphs" fill="#33b1ff" stroke="#33b1ff" stroke-width="1.54">1</tspan><tspan x="1100.28" y="477.74" font-size="20.9" textLength="5.60" lengthAdjust="spacingAndGlyphs" fill="#33b1ff" stroke="#33b1ff" stroke-width="0.72">,</tspan><tspan x="1106.28" y="477.37" font-size="19.82" textLength="5.78" lengthAdjust="spacingAndGlyphs" fill="#33b1ff" stroke="#33b1ff" stroke-width="1.46">1</tspan><tspan x="1113.68" y="477.67" font-size="20.68" textLength="10.06" lengthAdjust="spacingAndGlyphs" fill="#33b1ff" stroke="#33b1ff" stroke-width="0.87">4</tspan><tspan x="1125.03" y="477.78" font-size="21.0" textLength="11.66" lengthAdjust="spacingAndGlyphs" fill="#33b1ff" stroke="#33b1ff" stroke-width="0.65">6</tspan><tspan x="1137.10" y="477.81" font-size="21.1" textLength="6.10" lengthAdjust="spacingAndGlyphs" fill="#33b1ff" stroke="#33b1ff" stroke-width="0.58">.</tspan><tspan x="1144.09" y="477.78" font-size="21.01" textLength="11.78" lengthAdjust="spacingAndGlyphs" fill="#33b1ff" stroke="#33b1ff" stroke-width="0.64">7</tspan><tspan x="1155.72" y="477.73" font-size="20.85" textLength="10.94" lengthAdjust="spacingAndGlyphs" fill="#33b1ff" stroke="#33b1ff" stroke-width="0.75">5</tspan></text>
<text transform="rotate(0.05 249.2 566.47)"><tspan x="80.41" y="566.02" font-size="19.69" textLength="4.86" lengthAdjust="spacingAndGlyphs" fill="#000000" stroke="#000000" stroke-width="1.55">1</tspan><tspan x="87.56" y="566.46" font-size="20.96" textLength="11.48" lengthAdjust="spacingAndGlyphs" fill="#000000" stroke="#000000" stroke-width="0.68">0</tspan> <tspan x="106.00" y="566.40" font-size="20.78" textLength="14.81" lengthAdjust="spacingAndGlyphs" fill="#000000" stroke="#000000" stroke-width="0.8">O</tspan><tspan x="121.34" y="566.47" font-size="21.0" textLength="15.17" lengthAdjust="spacingAndGlyphs" fill="#000000" stroke="#000000" stroke-width="0.65">N</tspan><tspan x="137.02" y="566.46" font-size="20.96" textLength="16.02" lengthAdjust="spacingAndGlyphs" fill="#000000" stroke="#000000" stroke-width="0.68">G</tspan><tspan x="153.26" y="566.42" font-size="20.85" textLength="15.34" lengthAdjust="spacingAndGlyphs" fill="#000000" stroke="#000000" stroke-width="0.75">O</tspan><tspan x="169.14" y="566.34" font-size="20.62" textLength="4.88" lengthAdjust="spacingAndGlyphs" fill="#000000" stroke="#000000" stroke-width="0.91">I</tspan><tspan x="175.25" y="566.45" font-size="20.94" textLength="14.77" lengthAdjust="spacingAndGlyphs" fill="#000000" stroke="#000000" stroke-width="0.69">N</tspan><tspan x="190.39" y="566.46" font-size="20.96" textLength="16.07" lengthAdjust="spacingAndGlyphs" fill="#000000" stroke="#000000" stroke-width="0.68">G</tspan> <tspan x="211.83" y="566.31" font-size="20.53" textLength="4.67" lengthAdjust="spacingAndGlyphs" fill="#000000" stroke="#000000" stroke-width="0.97">I</tspan><tspan x="217.62" y="566.46" font-size="20.97" textLength="14.94" lengthAdjust="spacingAndGlyphs" fill="#000000" stroke="#000000" stroke-width="0.67">N</tspan><tspan x="233.73" y="566.31" font-size="20.53" textLength="12.11" lengthAdjust="spacingAndGlyphs" fill="#000000" stroke="#000000" stroke-width="0.97">D</tspan><tspan x="246.65" y="566.30" font-size="20.49" textLength="4.55" lengthAdjust="spacingAndGlyphs" fill="#000000" stroke="#000000" stroke-width="1.0">I</tspan><tspan x="252.37" y="566.46" font-size="20.96" textLength="13.75" lengthAdjust="spacingAndGlyphs" fill="#000000" stroke="#000000" stroke-width="0.68">V</tspan><tspan x="267.24" y="566.35" font-size="20.65" textLength="4.95" lengthAdjust="spacingAndGlyphs" fill="#000000" stroke="#000000" stroke-width="0.89">I</tspan><tspan x="272.95" y="566.31" font-size="20.53" textLength="12.18" lengthAdjust="spacingAndGlyphs" fill="#000000" stroke="#000000" stroke-width="0.97">D</tspan><tspan x="286.29" y="566.37" font-size="20.68" textLength="13.09" lengthAdjust="spacingAndGlyphs" fill="#000000" stroke="#000000" stroke-width="0.87">U</tspan><tspan x="298.59" y="566.48" font-size="21.03" textLength="15.41" lengthAdjust="spacingAndGlyphs" fill="#000000" stroke="#000000" stroke-width="0.63">A</tspan><tspan x="314.49" y="566.24" font-size="20.32" textLength="9.07" lengthAdjust="spacingAndGlyphs" fill="#000000" stroke="#000000" stroke-width="1.12">L</tspan> <tspan x="335.79" y="566.38" font-size="20.71" textLength="13.26" lengthAdjust="spacingAndGlyphs" fill="#000000" stroke="#000000" stroke-width="0.85">C</tspan><tspan x="350.83" y="566.21" font-size="20.23" textLength="8.58" lengthAdjust="spacingAndGlyphs" fill="#000000" stroke="#000000" stroke-width="1.18">L</tspan><tspan x="361.44" y="566.30" font-size="20.51" textLength="4.61" lengthAdjust="spacingAndGlyphs" fill="#000000" stroke="#000000" stroke-width="0.99">I</tspan><tspan x="367.17" y="566.26" font-size="20.38" textLength="10.29" lengthAdjust="spacingAndGlyphs" fill="#000000" stroke="#000000" stroke-width="1.08">E</tspan><tspan x="378.67" y="566.51" font-size="21.1" textLength="15.85" lengthAdjust="spacingAndGlyphs" fill="#000000" stroke="#000000" stroke-width="0.58">N</tspan><tspan x="395.57" y="566.28" font-size="20.43" textLength="9.71" lengthAdjust="spacingAndGlyphs" fill="#000000" stroke="#000000" stroke-width="1.04">T</tspan><tspan x="406.16" y="566.33" font-size="20.59" textLength="11.58" lengthAdjust="spacingAndGlyphs" fill="#000000" stroke="#000000" stroke-width="0.93">S</tspan></text>
<text transform="rotate(0.05 251.9 596.57)"><tspan x="149.03" y="596.37" font-size="20.4" textLength="11.31" lengthAdjust="spacingAndGlyphs" fill="#000000" stroke="#000000" stroke-width="1.06">R</tspan><tspan x="161.68" y="596.30" font-size="20.22" textLength="9.28" lengthAdjust="spacingAndGlyphs" fill="#000000" stroke="#000000" stroke-width="1.19">E</tspan><tspan x="173.34" y="596.42" font-size="20.56" textLength="12.34" lengthAdjust="spacingAndGlyphs" fill="#000000" stroke="#000000" stroke-width="0.95">C</tspan><tspan x="186.73" y="596.44" font-size="20.61" textLength="12.59" lengthAdjust="spacingAndGlyphs" fill="#000000" stroke="#000000" stroke-width="0.92">U</tspan><tspan x="200.09" y="596.38" font-size="20.42" textLength="11.39" lengthAdjust="spacingAndGlyphs" fill="#000000" stroke="#000000" stroke-width="1.05">R</tspan><tspan x="213.15" y="596.35" font-size="20.33" textLength="10.85" lengthAdjust="spacingAndGlyphs" fill="#000000" stroke="#000000" stroke-width="1.11">R</tspan><tspan x="225.74" y="596.38" font-size="20.42" textLength="4.38" lengthAdjust="spacingAndGlyphs" fill="#000000" stroke="#000000" stroke-width="1.05">I</tspan><tspan x="230.78" y="596.55" font-size="20.94" textLength="14.82" lengthAdjust="spacingAndGlyphs" fill="#000000" stroke="#000000" stroke-width="0.69">N</tspan><tspan x="246.37" y="596.55" font-size="20.93" textLength="15.85" lengthAdjust="spacingAndGlyphs" fill="#000000" stroke="#000000" stroke-width="0.7">G</tspan> <tspan x="268.43" y="596.35" font-size="20.35" textLength="10.92" lengthAdjust="spacingAndGlyphs" fill="#000000" stroke="#000000" stroke-width="1.1">R</tspan><tspan x="281.06" y="596.30" font-size="20.2" textLength="9.18" lengthAdjust="spacingAndGlyphs" fill="#000000" stroke="#000000" stroke-width="1.2">E</tspan><tspan x="291.62" y="596.50" font-size="20.77" textLength="12.61" lengthAdjust="spacingAndGlyphs" fill="#000000" stroke="#000000" stroke-width="0.81">V</tspan><tspan x="306.06" y="596.30" font-size="20.2" textLength="9.18" lengthAdjust="spacingAndGlyphs" fill="#000000" stroke="#000000" stroke-width="1.2">E</tspan><tspan x="316.39" y="596.55" font-size="20.93" textLength="14.74" lengthAdjust="spacingAndGlyphs" fill="#000000" stroke="#000000" stroke-width="0.7">N</tspan><tspan x="331.64" y="596.40" font-size="20.49" textLength="11.83" lengthAdjust="spacingAndGlyphs" fill="#000000" stroke="#000000" stroke-width="1.0">U</tspan><tspan x="344.92" y="596.31" font-size="20.24" textLength="9.43" lengthAdjust="spacingAndGlyphs" fill="#000000" stroke="#000000" stroke-width="1.17">E</tspan></text>
<text transform="rotate(0.05 639.0 551.27)"><tspan x="617.98" y="551.20" font-size="20.77" textLength="10.52" lengthAdjust="spacingAndGlyphs" fill="#000000" stroke="#000000" stroke-width="0.81">$</tspan><tspan x="630.14" y="550.85" font-size="19.75" textLength="5.39" lengthAdjust="spacingAndGlyphs" fill="#000000" stroke="#000000" stroke-width="1.51">1</tspan><tspan x="636.90" y="551.27" font-size="20.99" textLength="11.62" lengthAdjust="spacingAndGlyphs" fill="#000000" stroke="#000000" stroke-width="0.66">3</tspan><tspan x="649.34" y="551.25" font-size="20.94" textLength="11.41" lengthAdjust="spacingAndGlyphs" fill="#000000" stroke="#000000" stroke-width="0.69">9</tspan></text>
<text transform="rotate(0.05 639.1 581.27)"><tspan x="527.03" y="581.06" font-size="20.36" textLength="11.02" lengthAdjust="spacingAndGlyphs" fill="#000000" stroke="#000000" stroke-width="1.09">B</tspan><tspan x="539.10" y="581.16" font-size="20.67" textLength="5.00" lengthAdjust="spacingAndGlyphs" fill="#000000" stroke="#000000" stroke-width="0.88">I</tspan><tspan x="544.98" y="581.05" font-size="20.33" textLength="9.10" lengthAdjust="spacingAndGlyphs" fill="#000000" stroke="#000000" stroke-width="1.11">L</tspan><tspan x="555.71" y="581.02" font-size="20.26" textLength="8.72" lengthAdjust="spacingAndGlyphs" fill="#000000" stroke="#000000" stroke-width="1.16">L</tspan><tspan x="566.32" y="581.05" font-size="20.33" textLength="10.00" lengthAdjust="spacingAndGlyphs" fill="#000000" stroke="#000000" stroke-width="1.11">E</tspan><tspan x="578.10" y="581.08" font-size="20.42" textLength="11.35" lengthAdjust="spacingAndGlyphs" fill="#000000" stroke="#000000" stroke-width="1.05">D</tspan> <tspan x="596.18" y="581.01" font-size="20.23" textLength="9.38" lengthAdjust="spacingAndGlyphs" fill="#000000" stroke="#000000" stroke-width="1.18">E</tspan><tspan x="607.97" y="581.23" font-size="20.87" textLength="13.24" lengthAdjust="spacingAndGlyphs" fill="#000000" stroke="#000000" stroke-width="0.74">V</tspan><tspan x="622.02" y="581.00" font-size="20.22" textLength="9.27" lengthAdjust="spacingAndGlyphs" fill="#000000" stroke="#000000" stroke-width="1.19">E</tspan><tspan x="633.43" y="581.08" font-size="20.43" textLength="11.45" lengthAdjust="spacingAndGlyphs" fill="#000000" stroke="#000000" stroke-width="1.04">R</tspan><tspan x="643.74" y="581.24" font-size="20.88" textLength="13.31" lengthAdjust="spacingAndGlyphs" fill="#000000" stroke="#000000" stroke-width="0.73">Y</tspan> <tspan x="664.66" y="581.26" font-size="20.97" textLength="11.58" lengthAdjust="spacingAndGlyphs" fill="#000000" stroke="#000000" stroke-width="0.67">4</tspan> <tspan x="683.99" y="581.21" font-size="20.8" textLength="18.12" lengthAdjust="spacingAndGlyphs" fill="#000000" stroke="#000000" stroke-width="0.79">W</tspan><tspan x="703.83" y="581.02" font-size="20.26" textLength="9.57" lengthAdjust="spacingAndGlyphs" fill="#000000" stroke="#000000" stroke-width="1.16">E</tspan><tspan x="715.12" y="581.05" font-size="20.35" textLength="10.07" lengthAdjust="spacingAndGlyphs" fill="#000000" stroke="#000000" stroke-width="1.1">E</tspan><tspan x="726.99" y="581.09" font-size="20.45" textLength="11.61" lengthAdjust="spacingAndGlyphs" fill="#000000" stroke="#000000" stroke-width="1.03">K</tspan><tspan x="739.83" y="581.11" font-size="20.51" textLength="11.08" lengthAdjust="spacingAndGlyphs" fill="#000000" stroke="#000000" stroke-width="0.99">S</tspan></text>
<text transform="rotate(0.05 639.0 611.47)"><tspan x="569.94" y="611.31" font-size="20.52" textLength="10.19" lengthAdjust="spacingAndGlyphs" fill="#000000" stroke="#000000" stroke-width="0.98">T</tspan><tspan x="581.31" y="611.50" font-size="21.06" textLength="16.79" lengthAdjust="spacingAndGlyphs" fill="#000000" stroke="#000000" stroke-width="0.61">O</tspan><tspan x="598.09" y="611.32" font-size="20.55" textLength="10.36" lengthAdjust="spacingAndGlyphs" fill="#000000" stroke="#000000" stroke-width="0.96">T</tspan><tspan x="607.36" y="611.56" font-size="21.25" textLength="16.78" lengthAdjust="spacingAndGlyphs" fill="#000000" stroke="#000000" stroke-width="0.48">A</tspan><tspan x="624.20" y="611.26" font-size="20.38" textLength="9.40" lengthAdjust="spacingAndGlyphs" fill="#000000" stroke="#000000" stroke-width="1.08">L</tspan><tspan x="634.60" y="611.59" font-size="21.35" textLength="8.06" lengthAdjust="spacingAndGlyphs" fill="#000000" stroke="#000000" stroke-width="0.41">:</tspan> <tspan x="647.56" y="611.41" font-size="20.83" textLength="10.79" lengthAdjust="spacingAndGlyphs" fill="#000000" stroke="#000000" stroke-width="0.77">$</tspan><tspan x="659.66" y="611.03" font-size="19.71" textLength="5.20" lengthAdjust="spacingAndGlyphs" fill="#000000" stroke="#000000" stroke-width="1.54">1</tspan><tspan x="666.38" y="611.52" font-size="21.13" textLength="6.17" lengthAdjust="spacingAndGlyphs" fill="#000000" stroke="#000000" stroke-width="0.56">,</tspan><tspan x="672.48" y="611.45" font-size="20.94" textLength="11.41" lengthAdjust="spacingAndGlyphs" fill="#000000" stroke="#000000" stroke-width="0.69">3</tspan><tspan x="684.47" y="611.43" font-size="20.88" textLength="11.13" lengthAdjust="spacingAndGlyphs" fill="#000000" stroke="#000000" stroke-width="0.73">9</tspan><tspan x="696.02" y="611.55" font-size="21.22" textLength="12.78" lengthAdjust="spacingAndGlyphs" fill="#000000" stroke="#000000" stroke-width="0.5">0</tspan></text>
<text transform="rotate(0.05 908.0 581.47)"><tspan x="869.14" y="581.38" font-size="20.72" textLength="10.28" lengthAdjust="spacingAndGlyphs" fill="#ed3b35" stroke="#ed3b35" stroke-width="0.84">$</tspan><tspan x="881.38" y="581.41" font-size="20.81" textLength="10.75" lengthAdjust="spacingAndGlyphs" fill="#ed3b35" stroke="#ed3b35" stroke-width="0.78">6</tspan><tspan x="893.11" y="581.46" font-size="20.96" textLength="11.50" lengthAdjust="spacingAndGlyphs" fill="#ed3b35" stroke="#ed3b35" stroke-width="0.68">2</tspan><tspan x="905.33" y="581.40" font-size="20.78" textLength="10.62" lengthAdjust="spacingAndGlyphs" fill="#ed3b35" stroke="#ed3b35" stroke-width="0.8">5</tspan><tspan x="916.68" y="581.53" font-size="21.16" textLength="6.26" lengthAdjust="spacingAndGlyphs" fill="#ed3b35" stroke="#ed3b35" stroke-width="0.54">.</tspan><tspan x="923.48" y="581.42" font-size="20.85" textLength="10.93" lengthAdjust="spacingAndGlyphs" fill="#ed3b35" stroke="#ed3b35" stroke-width="0.75">5</tspan><tspan x="935.03" y="581.53" font-size="21.17" textLength="12.55" lengthAdjust="spacingAndGlyphs" fill="#ed3b35" stroke="#ed3b35" stroke-width="0.53">0</tspan></text>
<text transform="rotate(0.05 1123.8 581.47)"><tspan x="1083.53" y="581.45" font-size="20.93" textLength="11.31" lengthAdjust="spacingAndGlyphs" fill="#33b1ff" stroke="#33b1ff" stroke-width="0.7">$</tspan><tspan x="1096.31" y="581.53" font-size="21.16" textLength="12.50" lengthAdjust="spacingAndGlyphs" fill="#33b1ff" stroke="#33b1ff" stroke-width="0.54">7</tspan><tspan x="1107.29" y="581.51" font-size="21.12" textLength="12.30" lengthAdjust="spacingAndGlyphs" fill="#33b1ff" stroke="#33b1ff" stroke-width="0.57">6</tspan><tspan x="1120.10" y="581.41" font-size="20.83" textLength="10.83" lengthAdjust="spacingAndGlyphs" fill="#33b1ff" stroke="#33b1ff" stroke-width="0.77">4</tspan><tspan x="1131.84" y="581.59" font-size="21.33" textLength="6.70" lengthAdjust="spacingAndGlyphs" fill="#33b1ff" stroke="#33b1ff" stroke-width="0.42">.</tspan><tspan x="1139.09" y="581.47" font-size="20.99" textLength="11.61" lengthAdjust="spacingAndGlyphs" fill="#33b1ff" stroke="#33b1ff" stroke-width="0.66">5</tspan><tspan x="1151.61" y="581.56" font-size="21.25" textLength="12.97" lengthAdjust="spacingAndGlyphs" fill="#33b1ff" stroke="#33b1ff" stroke-width="0.48">0</tspan></text>
<text transform="rotate(0.05 249.2 662.07)"><tspan x="92.10" y="662.06" font-size="20.96" textLength="17.20" lengthAdjust="spacingAndGlyphs" fill="#33b1ff" stroke="#33b1ff" stroke-width="0.68">M</tspan><tspan x="111.10" y="662.04" font-size="20.9" textLength="15.58" lengthAdjust="spacingAndGlyphs" fill="#33b1ff" stroke="#33b1ff" stroke-width="0.72">O</tspan><tspan x="127.31" y="662.13" font-size="21.17" textLength="16.34" lengthAdjust="spacingAndGlyphs" fill="#33b1ff" stroke="#33b1ff" stroke-width="0.53">N</tspan><tspan x="144.97" y="661.86" font-size="20.36" textLength="9.32" lengthAdjust="spacingAndGlyphs" fill="#33b1ff" stroke="#33b1ff" stroke-width="1.09">T</tspan><tspan x="155.82" y="661.99" font-size="20.74" textLength="13.51" lengthAdjust="spacingAndGlyphs" fill="#33b1ff" stroke="#33b1ff" stroke-width="0.83">H</tspan><tspan x="170.93" y="661.85" font-size="20.35" textLength="9.18" lengthAdjust="spacingAndGlyphs" fill="#33b1ff" stroke="#33b1ff" stroke-width="1.1">L</tspan><tspan x="179.00" y="662.06" font-size="20.96" textLength="13.76" lengthAdjust="spacingAndGlyphs" fill="#33b1ff" stroke="#33b1ff" stroke-width="0.68">Y</tspan> <tspan x="199.86" y="661.86" font-size="20.38" textLength="11.12" lengthAdjust="spacingAndGlyphs" fill="#33b1ff" stroke="#33b1ff" stroke-width="1.08">R</tspan><tspan x="213.13" y="661.79" font-size="20.17" textLength="9.00" lengthAdjust="spacingAndGlyphs" fill="#33b1ff" stroke="#33b1ff" stroke-width="1.22">E</tspan><tspan x="223.88" y="661.93" font-size="20.58" textLength="12.38" lengthAdjust="spacingAndGlyphs" fill="#33b1ff" stroke="#33b1ff" stroke-width="0.94">C</tspan><tspan x="237.31" y="661.93" font-size="20.58" textLength="12.39" lengthAdjust="spacingAndGlyphs" fill="#33b1ff" stroke="#33b1ff" stroke-width="0.94">U</tspan><tspan x="250.81" y="661.86" font-size="20.38" textLength="11.05" lengthAdjust="spacingAndGlyphs" fill="#33b1ff" stroke="#33b1ff" stroke-width="1.08">R</tspan><tspan x="263.10" y="661.87" font-size="20.39" textLength="11.16" lengthAdjust="spacingAndGlyphs" fill="#33b1ff" stroke="#33b1ff" stroke-width="1.07">R</tspan><tspan x="276.11" y="661.83" font-size="20.29" textLength="4.05" lengthAdjust="spacingAndGlyphs" fill="#33b1ff" stroke="#33b1ff" stroke-width="1.14">I</tspan><tspan x="280.93" y="662.06" font-size="20.96" textLength="14.86" lengthAdjust="spacingAndGlyphs" fill="#33b1ff" stroke="#33b1ff" stroke-width="0.68">N</tspan><tspan x="296.19" y="662.03" font-size="20.88" textLength="15.56" lengthAdjust="spacingAndGlyphs" fill="#33b1ff" stroke="#33b1ff" stroke-width="0.73">G</tspan> <tspan x="318.70" y="661.85" font-size="20.35" textLength="10.95" lengthAdjust="spacingAndGlyphs" fill="#33b1ff" stroke="#33b1ff" stroke-width="1.1">R</tspan><tspan x="331.30" y="661.78" font-size="20.14" textLength="8.85" lengthAdjust="spacingAndGlyphs" fill="#33b1ff" stroke="#33b1ff" stroke-width="1.24">E</tspan><tspan x="342.08" y="662.02" font-size="20.85" textLength="13.17" lengthAdjust="spacingAndGlyphs" fill="#33b1ff" stroke="#33b1ff" stroke-width="0.75">V</tspan><tspan x="356.26" y="661.81" font-size="20.24" textLength="9.46" lengthAdjust="spacingAndGlyphs" fill="#33b1ff" stroke="#33b1ff" stroke-width="1.17">E</tspan><tspan x="367.10" y="662.05" font-size="20.94" textLength="14.77" lengthAdjust="spacingAndGlyphs" fill="#33b1ff" stroke="#33b1ff" stroke-width="0.69">N</tspan><tspan x="382.52" y="661.92" font-size="20.55" textLength="12.28" lengthAdjust="spacingAndGlyphs" fill="#33b1ff" stroke="#33b1ff" stroke-width="0.96">U</tspan><tspan x="396.09" y="661.80" font-size="20.22" textLength="9.24" lengthAdjust="spacingAndGlyphs" fill="#33b1ff" stroke="#33b1ff" stroke-width="1.19">E</tspan></text>
<text transform="rotate(0.05 639.3 662.07)"><tspan x="606.32" y="662.01" font-size="20.81" textLength="10.75" lengthAdjust="spacingAndGlyphs" fill="#000000" stroke="#000000" stroke-width="0.78">$</tspan><tspan x="619.11" y="662.05" font-size="20.94" textLength="11.39" lengthAdjust="spacingAndGlyphs" fill="#000000" stroke="#000000" stroke-width="0.69">3</tspan><tspan x="630.59" y="662.14" font-size="21.19" textLength="6.32" lengthAdjust="spacingAndGlyphs" fill="#000000" stroke="#000000" stroke-width="0.52">,</tspan><tspan x="637.41" y="662.02" font-size="20.84" textLength="10.85" lengthAdjust="spacingAndGlyphs" fill="#000000" stroke="#000000" stroke-width="0.76">4</tspan><tspan x="649.33" y="662.11" font-size="21.1" textLength="12.22" lengthAdjust="spacingAndGlyphs" fill="#000000" stroke="#000000" stroke-width="0.58">7</tspan><tspan x="661.11" y="662.06" font-size="20.96" textLength="11.45" lengthAdjust="spacingAndGlyphs" fill="#000000" stroke="#000000" stroke-width="0.68">5</tspan></text>
<text transform="rotate(0.05 908.2 662.07)"><tspan x="863.47" y="662.02" font-size="20.84" textLength="10.88" lengthAdjust="spacingAndGlyphs" fill="#ed3b35" stroke="#ed3b35" stroke-width="0.76">$</tspan><tspan x="875.34" y="661.66" font-size="19.81" textLength="5.71" lengthAdjust="spacingAndGlyphs" fill="#ed3b35" stroke="#ed3b35" stroke-width="1.47">1</tspan><tspan x="882.69" y="662.06" font-size="20.97" textLength="5.76" lengthAdjust="spacingAndGlyphs" fill="#ed3b35" stroke="#ed3b35" stroke-width="0.67">,</tspan><tspan x="888.73" y="662.01" font-size="20.83" textLength="10.77" lengthAdjust="spacingAndGlyphs" fill="#ed3b35" stroke="#ed3b35" stroke-width="0.77">5</tspan><tspan x="900.38" y="662.06" font-size="20.97" textLength="11.53" lengthAdjust="spacingAndGlyphs" fill="#ed3b35" stroke="#ed3b35" stroke-width="0.67">6</tspan><tspan x="912.83" y="662.02" font-size="20.84" textLength="10.89" lengthAdjust="spacingAndGlyphs" fill="#ed3b35" stroke="#ed3b35" stroke-width="0.76">3</tspan><tspan x="924.16" y="661.97" font-size="20.69" textLength="5.06" lengthAdjust="spacingAndGlyphs" fill="#ed3b35" stroke="#ed3b35" stroke-width="0.86">.</tspan><tspan x="931.43" y="662.01" font-size="20.81" textLength="10.72" lengthAdjust="spacingAndGlyphs" fill="#ed3b35" stroke="#ed3b35" stroke-width="0.78">7</tspan><tspan x="942.32" y="662.00" font-size="20.8" textLength="10.68" lengthAdjust="spacingAndGlyphs" fill="#ed3b35" stroke="#ed3b35" stroke-width="0.79">5</tspan></text>
<text transform="rotate(0.05 1123.8 662.07)"><tspan x="1084.40" y="662.00" font-size="20.77" textLength="10.52" lengthAdjust="spacingAndGlyphs" fill="#33b1ff" stroke="#33b1ff" stroke-width="0.81">$</tspan><tspan x="1096.26" y="661.62" font-size="19.69" textLength="5.02" lengthAdjust="spacingAndGlyphs" fill="#33b1ff" stroke="#33b1ff" stroke-width="1.55">1</tspan><tspan x="1102.69" y="662.04" font-size="20.91" textLength="5.62" lengthAdjust="spacingAndGlyphs" fill="#33b1ff" stroke="#33b1ff" stroke-width="0.71">,</tspan><tspan x="1109.05" y="662.02" font-size="20.85" textLength="10.99" lengthAdjust="spacingAndGlyphs" fill="#33b1ff" stroke="#33b1ff" stroke-width="0.75">9</tspan><tspan x="1120.52" y="661.65" font-size="19.78" textLength="5.54" lengthAdjust="spacingAndGlyphs" fill="#33b1ff" stroke="#33b1ff" stroke-width="1.49">1</tspan><tspan x="1127.33" y="661.65" font-size="19.78" textLength="5.56" lengthAdjust="spacingAndGlyphs" fill="#33b1ff" stroke="#33b1ff" stroke-width="1.49">1</tspan><tspan x="1134.70" y="662.05" font-size="20.94" textLength="5.69" lengthAdjust="spacingAndGlyphs" fill="#33b1ff" stroke="#33b1ff" stroke-width="0.69">.</tspan><tspan x="1140.55" y="662.03" font-size="20.87" textLength="11.06" lengthAdjust="spacingAndGlyphs" fill="#33b1ff" stroke="#33b1ff" stroke-width="0.74">2</tspan><tspan x="1152.69" y="661.98" font-size="20.72" textLength="10.31" lengthAdjust="spacingAndGlyphs" fill="#33b1ff" stroke="#33b1ff" stroke-width="0.84">5</tspan></text>
</svg>
</body></html>
